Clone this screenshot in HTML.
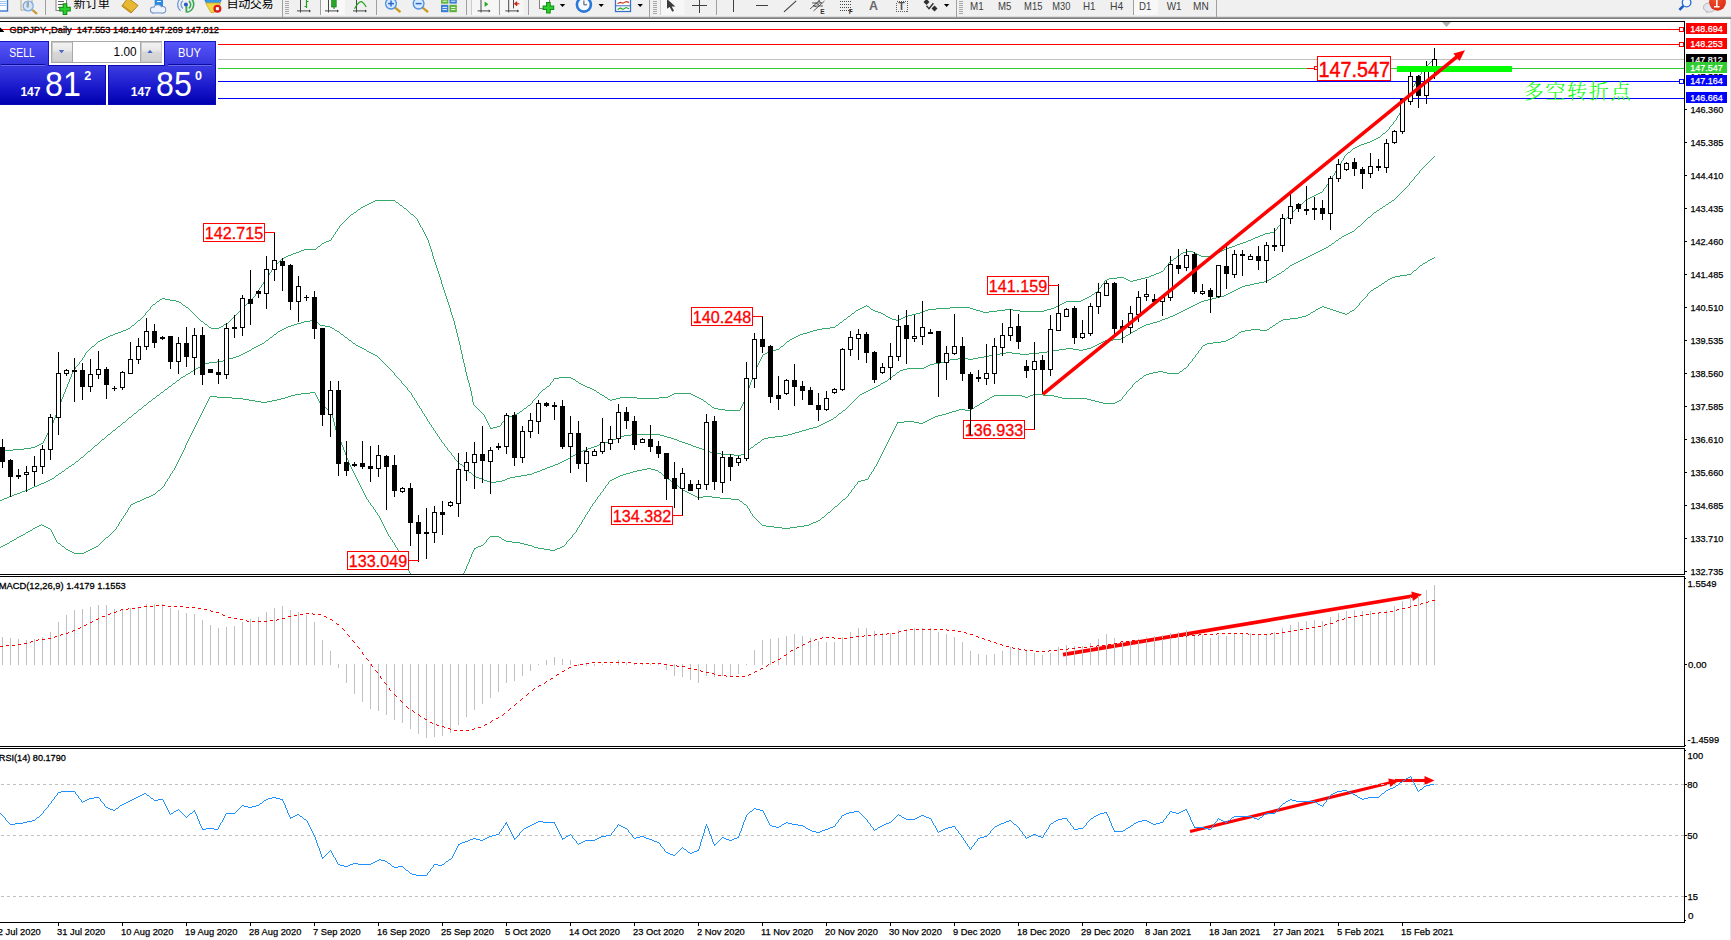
<!DOCTYPE html>
<html lang="zh"><head><meta charset="utf-8"><title>GBPJPY Daily</title>
<style>html,body{margin:0;padding:0;background:#fff;}body{width:1731px;height:940px;overflow:hidden;position:relative;font-family:"Liberation Sans", sans-serif;}svg{position:absolute;left:0;top:0;display:block}text{font-family:"Liberation Sans", sans-serif;}.cj{font-family:"Liberation Sans","Noto Sans CJK SC",sans-serif;}.sg{font-family:"Liberation Serif","Noto Serif CJK SC",serif;}</style>
</head><body>
<svg width="1731" height="940" viewBox="0 0 1731 940">
<defs>
<clipPath id="cm"><rect x="0" y="22" width="1684" height="552"/></clipPath>
<linearGradient id="gb1" x1="0" y1="0" x2="0" y2="1"><stop offset="0" stop-color="#5656fa"/><stop offset="1" stop-color="#3434dc"/></linearGradient>
<linearGradient id="gb2" x1="0" y1="0" x2="0" y2="1"><stop offset="0" stop-color="#3c3ce2"/><stop offset="0.55" stop-color="#1a1acc"/><stop offset="1" stop-color="#0000b0"/></linearGradient>
<linearGradient id="gg" x1="0" y1="0" x2="0" y2="1"><stop offset="0" stop-color="#f4f4f4"/><stop offset="0.45" stop-color="#e6e6e6"/><stop offset="0.5" stop-color="#d8d8d8"/><stop offset="1" stop-color="#d0d0d0"/></linearGradient>
<radialGradient id="gr" cx="0.4" cy="0.3" r="0.8"><stop offset="0" stop-color="#f05030"/><stop offset="1" stop-color="#d82810"/></radialGradient>
</defs>
<rect x="0" y="0" width="1731" height="940" fill="#fff"/>
<g id="toolbar">
<rect x="0" y="0" width="1731" height="16" fill="#f0f0f0"/>
<rect x="0" y="16" width="1731" height="1" fill="#dcdcdc"/>
<rect x="0" y="17" width="1731" height="1" fill="#9a9a9a"/>
<rect x="0" y="18" width="1731" height="1" fill="#808080"/>
<rect x="-1" y="-2" width="8.5" height="13" fill="#fff" stroke="#3a78d8" stroke-width="1.4"/>
<path d="M0 1.5H6M0 3.5H6M0 5.5H6" stroke="#9cc0f0" stroke-width="1"/>
<rect x="21" y="-2" width="11" height="12" fill="#f4f0e4" stroke="#b0a890" stroke-width="1"/>
<line x1="32.5" y1="10" x2="37" y2="13.8" stroke="#c8962c" stroke-width="2.2"/>
<circle cx="28.2" cy="6" r="5" fill="#d4e6f8" fill-opacity="0.9" stroke="#78a8e4" stroke-width="1.2"/>
<rect x="26.5" y="1.5" width="2.5" height="6" fill="#9aa8b8"/>
<rect x="45.0" y="0" width="1" height="14.5" fill="#a0a0a0" shape-rendering="crispEdges"/>
<rect x="56" y="-2" width="10.5" height="12.5" fill="#fff" stroke="#808080" stroke-width="1"/>
<path d="M58 1.5H64M58 4.5H63M58 7.5H61" stroke="#606060" stroke-width="1"/>
<path d="M65 3.2V15M59.2 9.1H70.8" stroke="#0c8c0c" stroke-width="4.6"/>
<path d="M65 4.2V14M60.2 9.1H69.8" stroke="#2cd02c" stroke-width="2.6"/>
<text class="cj" x="73.6" y="7.9" font-size="12.1px" fill="#000">新订单</text>
<polygon points="128,-2 138,5.5 131,13 121.8,6" fill="#e8b832" stroke="#b08418" stroke-width="1"/>
<polygon points="121.8,6 131,13 131,11 123,5" fill="#c89820"/>
<rect x="154.7" y="-2" width="8.3" height="8" fill="#2a8ae8"/>
<path d="M157 1.5H161" stroke="#fff" stroke-width="1"/>
<g stroke="#7090c8" stroke-width="2" fill="#7090c8"><circle cx="153.3" cy="10" r="2.4"/><circle cx="157.8" cy="8.6" r="3.3"/><circle cx="162.6" cy="9.7" r="2.7"/><rect x="153.3" y="10" width="9.3" height="2.4"/></g>
<g fill="#eef3fa"><circle cx="153.3" cy="10" r="2.4"/><circle cx="157.8" cy="8.6" r="3.3"/><circle cx="162.6" cy="9.7" r="2.7"/><rect x="153.3" y="9" width="9.3" height="3.4"/></g>
<path d="M182.9 8.4a4.7 4.7 0 0 1 0-7.6M180.6 10.8a8 8 0 0 1 0-12.4" stroke="#6a96dc" stroke-width="1.2" fill="none"/>
<path d="M188.9 1a4.7 4.7 0 0 1 0 7.4M191.2 -1.4a8 8 0 0 1-4 13.6" stroke="#38a850" stroke-width="1.6" fill="none"/>
<path d="M186.4 4.6V12.6" stroke="#38a850" stroke-width="1.8"/>
<circle cx="185.9" cy="4.6" r="2" fill="#2a5ac8"/>
<ellipse cx="213" cy="0.6" rx="8" ry="3.6" fill="#3a98e8" stroke="#2070c0" stroke-width="0.8"/>
<polygon points="205.6,3 220.8,3 214,12.6 211,12.6" fill="#f2d648" stroke="#c8a820" stroke-width="0.8"/>
<circle cx="217.4" cy="8.7" r="4" fill="#d82018"/>
<rect x="215.9" y="7.2" width="3" height="3" fill="#fff"/>
<text class="cj" x="226.6" y="7.9" font-size="12.1px" fill="#000" textLength="47" lengthAdjust="spacing">自动交易</text>
<rect x="281.5" y="0" width="1" height="16.5" fill="#a0a0a0" shape-rendering="crispEdges"/>
<rect x="284.5" y="1" width="4" height="1" fill="#a8a8a8" shape-rendering="crispEdges"/>
<rect x="284.5" y="3" width="4" height="1" fill="#a8a8a8" shape-rendering="crispEdges"/>
<rect x="284.5" y="5" width="4" height="1" fill="#a8a8a8" shape-rendering="crispEdges"/>
<rect x="284.5" y="7" width="4" height="1" fill="#a8a8a8" shape-rendering="crispEdges"/>
<rect x="284.5" y="9" width="4" height="1" fill="#a8a8a8" shape-rendering="crispEdges"/>
<rect x="284.5" y="11" width="4" height="1" fill="#a8a8a8" shape-rendering="crispEdges"/>
<rect x="284.5" y="13" width="4" height="1" fill="#a8a8a8" shape-rendering="crispEdges"/>
<path d="M300.5 0V12.5M297.0 10.9H310.0" stroke="#484848" stroke-width="1" fill="none"/>
<path d="M311.0 10.9l-2 -1.5v3z" fill="#484848"/>
<path d="M306.5 0V8M304.5 6.5H306.5M306.5 1.5H308.5" stroke="#20a020" stroke-width="1.2" fill="none"/>
<rect x="319.5" y="0" width="1" height="14.5" fill="#a0a0a0" shape-rendering="crispEdges"/>
<rect x="321" y="0" width="24" height="15" fill="#f8f8f8"/>
<path d="M328.5 0V12.5M325.0 10.9H338.0" stroke="#484848" stroke-width="1" fill="none"/>
<path d="M339.0 10.9l-2 -1.5v3z" fill="#484848"/>
<rect x="331.6" y="-1" width="4.6" height="8" fill="#28a828" stroke="#107010" stroke-width="0.6"/><path d="M334 7V9" stroke="#107010" stroke-width="1"/>
<path d="M356.5 0V12.5M353.0 10.9H366.0" stroke="#484848" stroke-width="1" fill="none"/>
<path d="M367.0 10.9l-2 -1.5v3z" fill="#484848"/>
<path d="M354.5 8.7C357 4.5 359 1.6 360.8 1.6C363 1.6 364.5 4 366.2 7" stroke="#20a020" stroke-width="1.2" fill="none"/>
<rect x="376.0" y="0" width="1" height="14.5" fill="#a0a0a0" shape-rendering="crispEdges"/>
<line x1="395.0" y1="7.6" x2="400.5" y2="12.2" stroke="#cc9a20" stroke-width="2.4"/>
<circle cx="391.0" cy="3.6" r="5.4" fill="#d6e8fa" stroke="#4a90e0" stroke-width="1.3"/>
<path d="M388.0 3.6H394.0" stroke="#2a6ad0" stroke-width="1.5"/>
<path d="M391.0 0.6V6.6" stroke="#2a6ad0" stroke-width="1.5"/>
<line x1="422.6" y1="7.6" x2="428.1" y2="12.2" stroke="#cc9a20" stroke-width="2.4"/>
<circle cx="418.6" cy="3.6" r="5.4" fill="#d6e8fa" stroke="#4a90e0" stroke-width="1.3"/>
<path d="M415.6 3.6H421.6" stroke="#2a6ad0" stroke-width="1.5"/>
<rect x="441" y="-1" width="7.4" height="4.6" fill="#5cb434"/><rect x="449.4" y="-1" width="7.4" height="4.6" fill="#3a7cdc"/>
<rect x="441" y="4.8" width="7.4" height="7.4" fill="#3a7cdc"/><rect x="449.4" y="4.8" width="7.4" height="7.4" fill="#5cb434"/>
<path d="M442.5 1.2H447M451 1.2H455.4M442.5 7.4H447M442.5 9.6H447M451 7.4H455.4M451 9.6H455.4" stroke="#fff" stroke-width="0.9"/>
<rect x="466.0" y="0" width="1" height="14.5" fill="#a0a0a0" shape-rendering="crispEdges"/>
<rect x="470.5" y="0" width="1" height="14.5" fill="#a0a0a0" shape-rendering="crispEdges"/>
<rect x="471.5" y="0" width="27" height="15" fill="#f6f6f6"/>
<path d="M481.0 0V12.5M477.6 10.9H489.6" stroke="#484848" stroke-width="1" fill="none"/>
<path d="M490.6 10.9l-2 -1.5v3z" fill="#484848"/>
<polygon points="484.6,1.6 484.6,7 488.4,4.3" fill="#28a828"/>
<rect x="499.0" y="0" width="1" height="14.5" fill="#a0a0a0" shape-rendering="crispEdges"/>
<rect x="500" y="0" width="23.5" height="15" fill="#f6f6f6"/>
<path d="M508.7 0V12.5M505.3 10.9H518.2" stroke="#484848" stroke-width="1" fill="none"/>
<path d="M519.2 10.9l-2 -1.5v3z" fill="#484848"/>
<path d="M513.5 0V8.4" stroke="#484848" stroke-width="1"/>
<path d="M515 3.8H519.4M514.4 3.8l2.4-2v4z" stroke="#d02010" stroke-width="1" fill="#d02010"/>
<rect x="528.0" y="0" width="1" height="14.5" fill="#a0a0a0" shape-rendering="crispEdges"/>
<rect x="539.5" y="-2" width="10" height="10.5" fill="#fff" stroke="#808080" stroke-width="1"/>
<path d="M548.4 2V13.6M542.6 7.8H554.2" stroke="#0c8c0c" stroke-width="4.6"/>
<path d="M548.4 3V12.6M543.6 7.8H553.2" stroke="#2cd02c" stroke-width="2.6"/>
<polygon points="559.8,4.0 565.2,4.0 562.5,7.0" fill="#000"/>
<circle cx="583.9" cy="4.6" r="7" fill="#f4f8ff" stroke="#2a78d8" stroke-width="2.6"/>
<path d="M583.9 0.5V4.8H587" stroke="#505050" stroke-width="1" fill="none"/>
<polygon points="598.5,4.0 603.9,4.0 601.2,7.0" fill="#000"/>
<rect x="615.5" y="-1" width="15" height="12.5" fill="#fff" stroke="#3a70c8" stroke-width="1.3"/>
<path d="M616 5.8H630" stroke="#3a70c8" stroke-width="1"/>
<path d="M617.5 3.6L620.5 2.4L623 3.2L626 1.6L629 2.4" stroke="#d03020" stroke-width="1.1" fill="none"/>
<path d="M617.5 9.6L620.5 8L623 9.4L626 7.6L629 8.8" stroke="#20a020" stroke-width="1.1" fill="none"/>
<polygon points="637.5,4.0 642.9,4.0 640.2,7.0" fill="#000"/>
<rect x="649.0" y="0" width="1" height="16.5" fill="#a0a0a0" shape-rendering="crispEdges"/>
<rect x="652.6" y="1" width="4" height="1" fill="#a8a8a8" shape-rendering="crispEdges"/>
<rect x="652.6" y="3" width="4" height="1" fill="#a8a8a8" shape-rendering="crispEdges"/>
<rect x="652.6" y="5" width="4" height="1" fill="#a8a8a8" shape-rendering="crispEdges"/>
<rect x="652.6" y="7" width="4" height="1" fill="#a8a8a8" shape-rendering="crispEdges"/>
<rect x="652.6" y="9" width="4" height="1" fill="#a8a8a8" shape-rendering="crispEdges"/>
<rect x="652.6" y="11" width="4" height="1" fill="#a8a8a8" shape-rendering="crispEdges"/>
<rect x="652.6" y="13" width="4" height="1" fill="#a8a8a8" shape-rendering="crispEdges"/>
<rect x="659.5" y="0" width="1" height="14.5" fill="#a0a0a0" shape-rendering="crispEdges"/>
<rect x="660.5" y="0" width="24" height="15" fill="#f7f7f7"/>
<polygon points="667,-1 667,8.7 669.7,6.9 672.3,11.8 674,10.7 671.7,6.6 675.4,6.6" fill="#3c3c3c"/>
<path d="M692 5.5H707M699.5 0V12.5" stroke="#404040" stroke-width="1" shape-rendering="crispEdges"/>
<rect x="716.0" y="0" width="1" height="14.5" fill="#a0a0a0" shape-rendering="crispEdges"/>
<path d="M733.5 0V11.8" stroke="#404040" stroke-width="1" shape-rendering="crispEdges"/>
<path d="M756 5.5H768" stroke="#404040" stroke-width="1" shape-rendering="crispEdges"/>
<path d="M784 11.8L796.2 0.9" stroke="#404040" stroke-width="1.1"/>
<path d="M810 9L821 -1M813.5 11L824.5 1M813 5.2L816.5 7.2M815.5 3L819 5M818 0.8L821.5 2.8M812 3H822M813 6H823" stroke="#484848" stroke-width="0.9" fill="none"/>
<text x="820.3" y="14" font-size="6.5px" font-weight="bold" fill="#303030">E</text>
<path d="M839.5 1.5H851.5" stroke="#484848" stroke-width="1" stroke-dasharray="1,1" shape-rendering="crispEdges"/>
<path d="M839.5 4.5H851.5" stroke="#484848" stroke-width="1" stroke-dasharray="1,1" shape-rendering="crispEdges"/>
<path d="M839.5 7.5H851.5" stroke="#484848" stroke-width="1" stroke-dasharray="1,1" shape-rendering="crispEdges"/>
<path d="M839.5 10.5H851.5" stroke="#484848" stroke-width="1" stroke-dasharray="1,1" shape-rendering="crispEdges"/>
<text x="848.8" y="14" font-size="6.5px" font-weight="bold" fill="#303030">F</text>
<text x="869" y="9.6" font-size="12.4px" font-weight="bold" fill="#686868">A</text>
<rect x="896.5" y="1.5" width="11" height="10" fill="none" stroke="#606060" stroke-width="1" stroke-dasharray="1,1" shape-rendering="crispEdges"/>
<text x="898.3" y="10.2" font-size="10.5px" font-weight="bold" fill="#505050">T</text>
<polygon points="926.5,-1 929.5,2 926.5,5 923.5,2" fill="#303030"/><polygon points="934.5,5.4 937.5,8.4 934.5,11.4 931.5,8.4" fill="#303030"/>
<path d="M926.5 5.8L929 8.6L933.4 3.2" stroke="#303030" stroke-width="1.4" fill="none"/>
<polygon points="943.9,4.0 949.3,4.0 946.6,7.0" fill="#000"/>
<rect x="955.5" y="0" width="1" height="16.5" fill="#a0a0a0" shape-rendering="crispEdges"/>
<rect x="958.6" y="1" width="4" height="1" fill="#a8a8a8" shape-rendering="crispEdges"/>
<rect x="958.6" y="3" width="4" height="1" fill="#a8a8a8" shape-rendering="crispEdges"/>
<rect x="958.6" y="5" width="4" height="1" fill="#a8a8a8" shape-rendering="crispEdges"/>
<rect x="958.6" y="7" width="4" height="1" fill="#a8a8a8" shape-rendering="crispEdges"/>
<rect x="958.6" y="9" width="4" height="1" fill="#a8a8a8" shape-rendering="crispEdges"/>
<rect x="958.6" y="11" width="4" height="1" fill="#a8a8a8" shape-rendering="crispEdges"/>
<rect x="958.6" y="13" width="4" height="1" fill="#a8a8a8" shape-rendering="crispEdges"/>
<text x="970.0" y="9.6" font-size="10.8px" fill="#404040" textLength="13.6" lengthAdjust="spacingAndGlyphs">M1</text>
<text x="998.0" y="9.6" font-size="10.8px" fill="#404040" textLength="13.4" lengthAdjust="spacingAndGlyphs">M5</text>
<text x="1024.1" y="9.6" font-size="10.8px" fill="#404040" textLength="18.3" lengthAdjust="spacingAndGlyphs">M15</text>
<text x="1052.3" y="9.6" font-size="10.8px" fill="#404040" textLength="18.1" lengthAdjust="spacingAndGlyphs">M30</text>
<text x="1082.9" y="9.6" font-size="10.8px" fill="#404040" textLength="12.5" lengthAdjust="spacingAndGlyphs">H1</text>
<text x="1110.0" y="9.6" font-size="10.8px" fill="#404040" textLength="13.2" lengthAdjust="spacingAndGlyphs">H4</text>
<rect x="1133.0" y="0" width="1" height="14.5" fill="#a0a0a0" shape-rendering="crispEdges"/>
<rect x="1134" y="0" width="24" height="15" fill="#f8f8f8"/>
<text x="1139.1" y="9.6" font-size="10.8px" fill="#404040" textLength="12.3" lengthAdjust="spacingAndGlyphs">D1</text>
<text x="1166.7" y="9.6" font-size="10.8px" fill="#404040" textLength="14.9" lengthAdjust="spacingAndGlyphs">W1</text>
<text x="1193.0" y="9.6" font-size="10.8px" fill="#404040" textLength="15.7" lengthAdjust="spacingAndGlyphs">MN</text>
<rect x="1215.5" y="0" width="1" height="16.5" fill="#a0a0a0" shape-rendering="crispEdges"/>
<line x1="1683.4" y1="5.8" x2="1679.4" y2="9.8" stroke="#1858c8" stroke-width="2.6"/>
<circle cx="1686.6" cy="2.6" r="4.3" fill="#f4f8ff" stroke="#2868d8" stroke-width="1.3"/>
<ellipse cx="1709.5" cy="7.4" rx="6" ry="4.6" fill="#e4e6ee" stroke="#b4b4b8" stroke-width="1"/>
<polygon points="1705.6,10.8 1706.3,13.8 1709,11.4" fill="#c8c8cc"/>
<circle cx="1717.5" cy="2.3" r="8.4" fill="url(#gr)"/>
<path d="M1716.8 -1V6.6M1714 6.7H1719.6" stroke="#fff" stroke-width="1.5" fill="none"/>
</g>
<g id="frame" shape-rendering="crispEdges" fill="#000">
<rect x="0" y="21" width="1685" height="1"/>
<rect x="1684" y="21" width="1" height="554"/>
<rect x="0" y="574" width="1685" height="1"/>
<rect x="0" y="576" width="1685" height="1"/>
<rect x="1684" y="576" width="1" height="171"/>
<rect x="0" y="746" width="1685" height="1"/>
<rect x="0" y="748" width="1685" height="1"/>
<rect x="1684" y="748" width="1" height="175"/>
<rect x="0" y="922" width="1685" height="1"/>
<rect x="1730" y="19" width="1" height="921" fill="#e4e4e4"/>
<rect x="1685" y="109" width="2" height="1"/>
<rect x="1685" y="142" width="2" height="1"/>
<rect x="1685" y="175" width="2" height="1"/>
<rect x="1685" y="208" width="2" height="1"/>
<rect x="1685" y="241" width="2" height="1"/>
<rect x="1685" y="274" width="2" height="1"/>
<rect x="1685" y="307" width="2" height="1"/>
<rect x="1685" y="340" width="2" height="1"/>
<rect x="1685" y="373" width="2" height="1"/>
<rect x="1685" y="406" width="2" height="1"/>
<rect x="1685" y="439" width="2" height="1"/>
<rect x="1685" y="472" width="2" height="1"/>
<rect x="1685" y="505" width="2" height="1"/>
<rect x="1685" y="538" width="2" height="1"/>
<rect x="1685" y="571" width="2" height="1"/>
<rect x="1685" y="578" width="1" height="1"/><rect x="1685" y="664" width="2" height="1"/><rect x="1685" y="745" width="1" height="1"/>
<rect x="1685" y="750" width="1" height="1"/><rect x="1685" y="784" width="2" height="1"/><rect x="1685" y="835" width="2" height="1"/><rect x="1685" y="896" width="2" height="1"/><rect x="1685" y="920" width="1" height="1"/>
<rect x="58" y="923" width="1" height="3"/>
<rect x="122" y="923" width="1" height="3"/>
<rect x="186" y="923" width="1" height="3"/>
<rect x="250" y="923" width="1" height="3"/>
<rect x="314" y="923" width="1" height="3"/>
<rect x="378" y="923" width="1" height="3"/>
<rect x="442" y="923" width="1" height="3"/>
<rect x="506" y="923" width="1" height="3"/>
<rect x="570" y="923" width="1" height="3"/>
<rect x="634" y="923" width="1" height="3"/>
<rect x="698" y="923" width="1" height="3"/>
<rect x="762" y="923" width="1" height="3"/>
<rect x="826" y="923" width="1" height="3"/>
<rect x="890" y="923" width="1" height="3"/>
<rect x="954" y="923" width="1" height="3"/>
<rect x="1018" y="923" width="1" height="3"/>
<rect x="1082" y="923" width="1" height="3"/>
<rect x="1146" y="923" width="1" height="3"/>
<rect x="1210" y="923" width="1" height="3"/>
<rect x="1274" y="923" width="1" height="3"/>
<rect x="1338" y="923" width="1" height="3"/>
<rect x="1402" y="923" width="1" height="3"/>
</g>
<g id="hlines" shape-rendering="crispEdges">
<rect x="0" y="29" width="1684" height="1" fill="#ff0000"/>
<rect x="0" y="44" width="1684" height="1" fill="#ff0000"/>
<rect x="0" y="59" width="1684" height="1" fill="#c0c0c0"/>
<rect x="0" y="68" width="1684" height="1" fill="#32cd32"/>
<rect x="0" y="81" width="1684" height="1" fill="#0000ff"/>
<rect x="0" y="98" width="1684" height="1" fill="#0000ff"/>
</g>
<g id="bands" fill="none" stroke="#36a86c" stroke-width="1" shape-rendering="crispEdges" transform="translate(0,0.5)">
<path d="M1434 58h1m-2 1h1m-2 1h1m-2 1h1m-2 1h1m-2 1h1m-2 1h1m-2 1h1m-2 1h1m-2 1h1m-2 1h1m-1 1h1m-2 1h1m-2 1h1m-2 1h1m-1 1h1m-2 1h1m-2 1h1m-2 1h1m-1 1h1m-2 1h1m-1 1h1m-2 1h1m-1 1h1m-2 1h1m-1 1h1m-2 1h1m-1 1h1m-2 1h1m-2 1h1m-1 1h1m-2 1h1m-1 1h1m-2 1h1m-2 1h1m-1 1h1m-2 1h1m-2 1h1m-1 1h1m-2 1h1m-1 1h1m-2 1h1m-1 1h1m-2 1h1m-1 1h1m-1 1h1m-2 1h1m-1 1h1m-2 1h1m-1 1h1m-1 1h1m-2 1h1m-1 1h1m-2 1h1m-1 1h1m-2 1h1m-1 1h1m-2 1h1m-2 1h1m-1 1h1m-2 1h1m-1 1h1m-2 1h1m-2 1h1m-2 1h1m-1 1h1m-2 1h1m-2 1h1m-2 1h1m-2 1h1m-1 1h1m-2 1h1m-2 1h1m-2 1h1m-2 1h1m-3 1h2m-3 1h1m-2 1h1m-2 1h1m-3 1h2m-4 1h2m-4 1h2m-4 1h2m-4 1h2m-5 1h3m-6 1h3m-6 1h3m-5 1h2m-4 1h2m-4 1h2m-4 1h2m-3 1h1m-2 1h1m-2 1h1m-3 1h2m-3 1h1m-2 1h1m-2 1h1m-2 1h1m-1 1h1m-2 1h1m-1 1h1m-2 1h1m-2 1h1m-1 1h1m-2 1h1m-2 1h1m-1 1h1m-2 1h1m-1 1h1m-2 1h1m-2 1h1m-1 1h1m-2 1h1m-1 1h1m-2 1h1m-1 1h1m-2 1h1m-2 1h1m-1 1h1m-2 1h1m-1 1h1m-2 1h1m-2 1h1m-1 1h1m-2 1h1m-2 1h1m-2 1h1m-1 1h1m-2 1h1m-2 1h1m-2 1h1m-1 1h1m-2 1h1m-3 1h2m-4 1h2m-4 1h2m-4 1h2m-4 1h2m-4 1h2m-4 1h2m-4 1h2m-933 1h20m910 0h1m-933 1h2m20 0h1m908 0h1m-934 1h2m23 0h2m905 0h1m-935 1h2m27 0h1m903 0h1m-936 1h2m30 0h1m900 0h2m-937 1h2m33 0h2m897 0h1m-937 1h2m37 0h1m895 0h1m-938 1h2m40 0h1m893 0h1m-938 1h1m43 0h2m890 0h1m-939 1h2m46 0h1m888 0h1m-939 1h1m49 0h1m886 0h1m-939 1h1m51 0h1m884 0h1m-940 1h2m53 0h1m882 0h1m-940 1h1m56 0h1m880 0h1m-941 1h2m58 0h2m877 0h1m-941 1h1m62 0h1m875 0h1m-941 1h1m64 0h1m873 0h1m-941 1h1m66 0h1m871 0h1m-941 1h1m68 0h1m869 0h1m-941 1h1m70 0h1m867 0h1m-941 1h1m71 0h1m866 0h1m-941 1h1m73 0h1m864 0h1m-941 1h1m74 0h1m863 0h1m-941 1h1m76 0h1m861 0h1m-941 1h1m77 0h1m860 0h1m-941 1h1m79 0h1m858 0h1m-941 1h1m80 0h1m857 0h1m-940 1h1m81 0h1m855 0h1m-940 1h1m83 0h1m854 0h1m-941 1h1m84 0h1m853 0h1m-940 1h1m85 0h1m851 0h1m-940 1h1m86 0h1m850 0h1m-940 1h1m88 0h1m845 0h4m-939 1h1m88 0h1m840 0h5m-936 1h1m90 0h1m837 0h2m-932 1h1m91 0h1m834 0h3m-930 1h1m92 0h1m831 0h2m-928 1h1m93 0h1m828 0h3m-927 1h1m95 0h1m825 0h2m-924 1h1m95 0h1m823 0h2m-924 1h2m97 0h1m819 0h3m-925 1h3m99 0h1m817 0h2m-924 1h2m102 0h1m814 0h3m-924 1h2m105 0h1m810 0h3m-922 1h1m107 0h1m807 0h3m-920 1h1m108 0h1m805 0h2m-919 1h2m110 0h1m801 0h3m-918 1h1m112 0h1m798 0h3m-916 1h1m113 0h1m795 0h3m-925 1h12m115 0h1m792 0h2m-925 1h3m127 0h1m790 0h2m-925 1h2m130 0h1m755 0h6m27 0h2m-926 1h3m133 0h1m750 0h4m6 0h2m22 0h3m-927 1h3m136 0h1m748 0h2m12 0h2m18 0h2m-926 1h2m139 0h1m747 0h1m16 0h2m14 0h2m-927 1h3m141 0h1m745 0h2m19 0h2m10 0h2m-927 1h2m145 0h1m743 0h1m23 0h10m-927 1h2m147 0h1m742 0h1m-895 1h2m149 0h1m740 0h2m-895 1h1m152 0h1m738 0h1m-894 1h1m153 0h1m736 0h2m-894 1h1m154 0h1m735 0h1m-893 1h1m156 0h1m733 0h1m-893 1h1m157 0h1m732 0h1m-893 1h1m158 0h1m732 0h1m-894 1h1m160 0h1m730 0h1m-894 1h1m161 0h1m729 0h1m-894 1h1m162 0h1m728 0h1m-893 1h1m163 0h1m726 0h1m-893 1h1m164 0h1m726 0h1m-894 1h1m165 0h1m725 0h1m-893 1h1m166 0h1m722 0h2m-893 1h1m167 0h1m720 0h2m-892 1h1m168 0h1m717 0h3m-890 1h1m169 0h1m714 0h2m-888 1h1m170 0h1m711 0h3m-887 1h1m171 0h1m709 0h2m-884 1h1m172 0h1m676 0h7m21 0h4m-883 1h1m173 0h1m668 0h8m7 0h2m15 0h4m-880 1h1m174 0h1m666 0h2m17 0h2m9 0h4m-876 1h1m175 0h1m663 0h2m21 0h2m3 0h4m-873 1h1m176 0h1m662 0h1m25 0h3m-870 1h1m177 0h1m662 0h1m-842 1h1m177 0h1m661 0h1m-842 1h1m179 0h1m659 0h1m-842 1h1m180 0h1m658 0h1m-841 1h1m180 0h1m658 0h1m-842 1h1m182 0h1m656 0h1m-842 1h1m183 0h1m655 0h1m-841 1h1m183 0h1m654 0h1m-841 1h1m185 0h1m653 0h1m-842 1h1m186 0h1m652 0h1m-841 1h1m186 0h1m650 0h2m-841 1h1m188 0h1m648 0h1m-840 1h1m189 0h1m646 0h2m-839 1h1m189 0h1m645 0h1m-838 1h1m191 0h1m642 0h2m-838 1h1m192 0h1m640 0h2m-927 1h3m87 0h1m193 0h1m638 0h2m-927 1h2m3 0h5m81 0h1m195 0h1m635 0h2m-926 1h1m10 0h6m74 0h1m196 0h1m633 0h2m-926 1h2m17 0h3m70 0h1m197 0h1m618 0h15m-925 1h1m22 0h2m67 0h1m199 0h1m615 0h2m-911 1h1m25 0h1m65 0h1m200 0h1m613 0h2m-911 1h2m27 0h1m63 0h1m201 0h1m611 0h2m-910 1h1m30 0h2m60 0h1m203 0h1m416 0h1m191 0h2m-909 1h1m33 0h1m58 0h1m204 0h1m414 0h2m1 0h2m187 0h2m-908 1h1m35 0h2m55 0h1m205 0h1m412 0h2m5 0h1m80 0h20m84 0h2m-906 1h1m37 0h1m53 0h1m207 0h1m409 0h2m8 0h1m65 0h14m20 0h3m78 0h3m-905 1h1m39 0h1m51 0h1m208 0h1m407 0h2m11 0h2m55 0h8m37 0h3m29 0h8m34 0h4m-903 1h1m41 0h1m49 0h1m209 0h1m405 0h2m15 0h2m50 0h3m48 0h4m17 0h8m8 0h7m24 0h3m-900 1h1m43 0h1m47 0h1m210 0h1m404 0h1m19 0h3m45 0h2m55 0h3m6 0h8m23 0h24m-898 1h1m45 0h1m45 0h1m212 0h1m402 0h1m23 0h3m39 0h3m60 0h6m-844 1h1m47 0h1m43 0h1m213 0h1m400 0h2m27 0h2m33 0h4m-775 1h1m48 0h1m41 0h1m214 0h1m399 0h1m31 0h2m27 0h4m-772 1h1m50 0h1m39 0h1m216 0h1m397 0h1m34 0h1m22 0h4m-769 1h1m52 0h1m37 0h1m217 0h1m395 0h2m36 0h2m17 0h3m-766 1h1m54 0h1m35 0h1m218 0h1m394 0h1m40 0h2m13 0h2m-764 1h1m56 0h1m33 0h1m220 0h1m392 0h1m43 0h2m9 0h2m-763 1h1m58 0h1m31 0h1m221 0h1m390 0h2m46 0h4m3 0h2m-763 1h2m60 0h1m29 0h1m222 0h1m389 0h1m52 0h3m-762 1h1m63 0h2m26 0h1m224 0h1m387 0h1m-707 1h1m66 0h1m24 0h1m225 0h1m385 0h2m-707 1h1m68 0h1m21 0h2m226 0h1m384 0h1m-706 1h1m70 0h2m17 0h2m228 0h1m383 0h1m-707 1h2m73 0h1m15 0h1m231 0h1m380 0h2m-707 1h1m76 0h1m12 0h2m232 0h1m379 0h1m-706 1h1m78 0h2m8 0h2m234 0h1m374 0h5m-707 1h2m81 0h8m236 0h1m366 0h8m-704 1h2m328 0h1m360 0h5m-699 1h3m330 0h1m356 0h4m-696 1h2m333 0h1m353 0h3m-695 1h3m335 0h1m350 0h3m-695 1h3m339 0h1m345 0h4m-694 1h2m342 0h1m342 0h3m-693 1h3m344 0h1m340 0h2m-692 1h2m347 0h1m338 0h2m-692 1h2m350 0h1m335 0h2m-692 1h2m352 0h1m333 0h2m-692 1h2m354 0h1m331 0h2m-692 1h2m356 0h1m330 0h1m-692 1h2m359 0h1m327 0h2m-692 1h1m361 0h1m326 0h1m-691 1h1m362 0h1m325 0h1m-691 1h1m363 0h1m324 0h1m-691 1h1m365 0h1m322 0h1m-692 1h2m366 0h1m320 0h2m-692 1h1m368 0h1m319 0h1m-691 1h1m369 0h1m318 0h1m-691 1h1m370 0h1m315 0h3m-691 1h1m372 0h1m310 0h4m-689 1h1m373 0h1m307 0h3m-686 1h1m374 0h1m305 0h2m-684 1h1m375 0h1m303 0h2m-682 1h1m376 0h1m300 0h2m-681 1h1m377 0h1m299 0h1m-679 1h1m377 0h1m299 0h1m-680 1h1m378 0h1m298 0h1m-680 1h1m379 0h1m298 0h1m-680 1h1m380 0h1m296 0h1m-680 1h1m381 0h1m296 0h1m-681 1h1m382 0h1m295 0h1m-681 1h1m383 0h1m295 0h1m-681 1h1m384 0h1m293 0h1m-681 1h1m385 0h1m293 0h1m-682 1h1m386 0h1m292 0h1m-682 1h1m387 0h1m292 0h1m-683 1h1m389 0h1m290 0h1m-682 1h1m389 0h1m290 0h1m-683 1h1m390 0h1m289 0h1m-683 1h1m391 0h1m289 0h1m-683 1h1m391 0h1m289 0h1m-684 1h1m393 0h1m287 0h1m-683 1h1m393 0h1m287 0h1m-684 1h1m394 0h1m287 0h1m-684 1h1m394 0h1m286 0h1m-683 1h1m395 0h1m285 0h1m-684 1h1m396 0h1m91 0h12m181 0h1m-683 1h1m396 0h1m86 0h5m12 0h2m179 0h1m-684 1h1m397 0h1m85 0h1m19 0h2m177 0h1m-684 1h1m398 0h1m84 0h1m21 0h1m175 0h1m-683 1h1m398 0h1m83 0h1m23 0h2m173 0h1m-684 1h1m399 0h1m82 0h1m26 0h1m171 0h1m-683 1h1m400 0h1m80 0h1m28 0h2m169 0h1m-684 1h1m401 0h1m80 0h1m30 0h2m167 0h1m-684 1h1m401 0h1m79 0h1m33 0h2m164 0h1m-683 1h1m401 0h1m77 0h2m36 0h2m162 0h1m-684 1h1m403 0h1m75 0h1m40 0h3m159 0h1m-684 1h1m403 0h1m74 0h1m44 0h2m156 0h1m-684 1h1m404 0h1m72 0h2m47 0h2m154 0h1m-684 1h1m404 0h1m71 0h1m51 0h2m152 0h1m-684 1h1m405 0h1m69 0h1m54 0h1m150 0h1m-684 1h1m406 0h1m68 0h1m56 0h2m148 0h1m-684 1h1m406 0h1m67 0h1m59 0h1m74 0h17m55 0h1m-684 1h1m407 0h1m66 0h1m61 0h2m70 0h2m17 0h2m53 0h1m-684 1h1m407 0h1m66 0h1m63 0h2m66 0h2m21 0h2m51 0h1m-684 1h1m408 0h1m64 0h1m66 0h1m63 0h2m25 0h2m48 0h1m-684 1h1m409 0h1m63 0h1m68 0h2m13 0h17m22 0h9m29 0h2m46 0h1m-684 1h1m409 0h1m62 0h1m71 0h1m8 0h4m17 0h22m40 0h2m44 0h1m-685 1h1m410 0h1m61 0h1m73 0h2m2 0h4m85 0h2m41 0h1m-684 1h1m410 0h1m60 0h1m76 0h2m91 0h1m40 0h1m-684 1h1m410 0h1m59 0h1m171 0h2m38 0h1m-685 1h1m412 0h1m58 0h1m173 0h1m36 0h1m-684 1h1m412 0h1m57 0h1m175 0h1m35 0h1m-685 1h1m413 0h1m56 0h1m177 0h2m32 0h1m-684 1h1m414 0h1m53 0h2m180 0h1m31 0h1m-684 1h1m415 0h1m51 0h1m183 0h1m29 0h1m-684 1h1m417 0h1m49 0h1m185 0h2m27 0h1m-684 1h1m418 0h1m46 0h2m188 0h4m22 0h1m-683 1h1m419 0h1m44 0h1m194 0h7m15 0h1m-684 1h1m421 0h1m42 0h1m202 0h15m-683 1h1m422 0h1m39 0h2m-466 1h1m424 0h1m37 0h1m-464 1h1m425 0h1m34 0h2m-463 1h1m426 0h1m31 0h2m-462 1h1m428 0h1m28 0h2m-460 1h1m428 0h1m24 0h4m-458 1h1m429 0h1m20 0h3m-455 1h1m430 0h1m19 0h1m-452 1h1m431 0h1m17 0h1m-452 1h1m432 0h1m17 0h1m-452 1h1m433 0h1m15 0h1m-451 1h1m433 0h1m14 0h1m-451 1h1m435 0h1m12 0h1m-450 1h1m435 0h1m12 0h1m-451 1h1m437 0h1m10 0h1m-450 1h1m437 0h1m7 0h3m-450 1h1m439 0h1m2 0h4m-447 1h1m439 0h3m-444 1h1m-1 1h1m-2 1h1m-1 1h1m-2 1h1m-1 1h1m-2 1h1m-1 1h1m-2 1h1m-1 1h1m-2 1h1m-1 1h1m-2 1h1m-1 1h1m-3 1h2m-4 1h2m-4 1h2m-4 1h2m-6 1h4m-11 1h7m-18 1h11m-21 1h10m-13 1h3"/>
<path d="M1434 156h1m-2 1h1m-2 1h1m-2 1h1m-2 1h1m-2 1h1m-2 1h1m-2 1h1m-2 1h1m-2 1h1m-2 1h1m-2 1h1m-2 1h1m-2 1h1m-2 1h1m-2 1h1m-1 1h1m-2 1h1m-2 1h1m-2 1h1m-2 1h1m-2 1h1m-1 1h1m-2 1h1m-2 1h1m-2 1h1m-2 1h1m-2 1h1m-1 1h1m-2 1h1m-2 1h1m-2 1h1m-2 1h1m-2 1h1m-2 1h1m-2 1h1m-2 1h1m-2 1h1m-2 1h1m-2 1h1m-2 1h1m-2 1h1m-2 1h1m-2 1h1m-3 1h2m-3 1h1m-3 1h2m-3 1h1m-3 1h2m-3 1h1m-3 1h2m-3 1h1m-3 1h2m-3 1h1m-3 1h2m-3 1h1m-3 1h2m-3 1h1m-2 1h1m-2 1h1m-2 1h1m-3 1h2m-3 1h1m-2 1h1m-2 1h1m-2 1h1m-2 1h1m-2 1h1m-2 1h1m-2 1h1m-3 1h2m-3 1h1m-2 1h1m-2 1h1m-2 1h1m-3 1h2m-4 1h2m-4 1h2m-4 1h2m-4 1h2m-4 1h2m-3 1h1m-3 1h2m-3 1h1m-3 1h2m-3 1h1m-2 1h1m-3 1h2m-3 1h1m-3 1h2m-3 1h1m-3 1h2m-4 1h2m-4 1h2m-4 1h2m-4 1h2m-4 1h2m-4 1h2m-4 1h2m-4 1h2m-4 1h2m-4 1h2m-4 1h2m-4 1h2m-4 1h2m-4 1h2m-4 1h2m-4 1h2m-4 1h2m-4 1h2m-3 1h1m-2 1h1m-3 1h2m-3 1h1m-2 1h1m-3 1h2m-3 1h1m-3 1h2m-4 1h2m-3 1h1m-3 1h2m-4 1h2m-3 1h1m-3 1h2m-4 1h2m-5 1h3m-8 1h5m-10 1h5m-9 1h4m-9 1h5m-8 1h3m-5 1h2m-4 1h2m-4 1h2m-4 1h2m-4 1h2m-4 1h2m-4 1h2m-4 1h2m-4 1h2m-6 1h4m-8 1h4m-8 1h4m-8 1h4m-8 1h4m-7 1h3m-5 1h2m-4 1h2m-4 1h2m-4 1h2m-4 1h2m-4 1h2m-4 1h2m-4 1h2m-4 1h2m-4 1h2m-4 1h2m-4 1h2m-4 1h2m-4 1h2m-5 1h3m-5 1h2m-5 1h3m-6 1h3m-855 1h6m844 0h2m-858 1h6m6 0h1m840 0h3m-859 1h3m13 0h1m835 0h4m-860 1h4m17 0h1m831 0h3m-859 1h3m22 0h1m826 0h4m-859 1h3m26 0h5m819 0h2m-858 1h3m34 0h5m812 0h2m-858 1h2m42 0h2m808 0h2m-858 1h2m46 0h2m804 0h2m-858 1h2m50 0h1m802 0h1m-858 1h2m53 0h2m798 0h2m-859 1h2m57 0h2m794 0h2m-858 1h1m61 0h1m791 0h2m-857 1h1m63 0h1m789 0h1m-857 1h2m65 0h2m785 0h2m-857 1h1m69 0h1m782 0h2m-856 1h1m71 0h1m780 0h1m-856 1h2m73 0h2m776 0h2m-856 1h1m77 0h1m773 0h2m-855 1h1m79 0h1m764 0h8m-855 1h2m81 0h2m754 0h8m-848 1h1m85 0h1m751 0h2m-841 1h1m87 0h1m748 0h2m-841 1h2m89 0h2m744 0h2m-841 1h2m93 0h1m741 0h2m-841 1h2m96 0h2m737 0h2m-841 1h2m100 0h2m733 0h2m-841 1h2m104 0h2m729 0h2m-841 1h2m108 0h2m702 0h7m14 0h4m-840 1h1m112 0h2m693 0h7m7 0h6m4 0h4m-838 1h2m115 0h1m686 0h6m20 0h4m-836 1h2m118 0h2m678 0h6m-808 1h2m122 0h2m635 0h6m27 0h8m-804 1h2m126 0h2m627 0h6m6 0h8m9 0h10m-798 1h2m130 0h2m619 0h6m20 0h9m-790 1h2m134 0h2m612 0h5m-758 1h3m138 0h1m606 0h5m-756 1h3m142 0h1m599 0h6m-755 1h4m146 0h1m578 0h10m5 0h5m-752 1h3m151 0h1m569 0h8m10 0h5m-750 1h3m155 0h1m565 0h3m-733 1h6m159 0h1m562 0h2m-738 1h8m166 0h1m556 0h5m-740 1h4m175 0h1m549 0h6m-737 1h2m180 0h1m544 0h4m-733 1h2m183 0h1m541 0h2m-730 1h1m186 0h1m538 0h2m-730 1h2m188 0h1m535 0h2m-730 1h2m191 0h1m517 0h17m-729 1h1m194 0h1m512 0h4m-714 1h2m196 0h1m508 0h3m-712 1h2m199 0h1m506 0h1m-710 1h1m202 0h1m503 0h2m-711 1h2m204 0h1m501 0h1m-711 1h2m206 0h1m500 0h1m-711 1h1m209 0h1m497 0h2m-712 1h2m211 0h1m495 0h1m-712 1h2m214 0h1m493 0h1m-712 1h1m217 0h1m490 0h2m-712 1h1m219 0h1m488 0h1m-712 1h2m221 0h1m486 0h1m-712 1h1m224 0h1m483 0h2m-712 1h1m225 0h1m481 0h2m-712 1h2m227 0h1m478 0h2m-711 1h1m230 0h1m476 0h1m-710 1h1m232 0h1m473 0h2m-711 1h2m234 0h1m470 0h2m-710 1h1m237 0h1m467 0h2m-709 1h1m239 0h1m464 0h2m-709 1h2m240 0h1m462 0h2m-708 1h1m243 0h1m459 0h2m-707 1h1m245 0h1m456 0h2m-707 1h2m247 0h1m453 0h2m-706 1h1m250 0h1m450 0h2m-705 1h1m251 0h1m448 0h2m-705 1h2m253 0h1m446 0h1m-704 1h1m255 0h1m445 0h1m-704 1h1m257 0h1m443 0h1m-705 1h2m259 0h1m441 0h1m-705 1h1m261 0h1m440 0h1m-705 1h1m263 0h1m438 0h1m-706 1h2m265 0h1m436 0h1m-706 1h1m267 0h1m435 0h1m-706 1h1m269 0h1m433 0h1m-706 1h1m270 0h1m432 0h1m-707 1h2m272 0h1m430 0h1m-707 1h1m275 0h1m428 0h1m-707 1h1m276 0h1m427 0h1m-707 1h1m278 0h1m425 0h1m-708 1h2m280 0h1m423 0h1m-708 1h1m282 0h1m421 0h2m-708 1h1m284 0h1m419 0h1m-707 1h1m285 0h1m418 0h1m-708 1h2m287 0h1m415 0h2m-708 1h1m290 0h1m413 0h1m-707 1h1m291 0h1m412 0h1m-707 1h1m293 0h1m410 0h1m-708 1h2m295 0h1m407 0h2m-708 1h1m297 0h1m406 0h1m-707 1h1m299 0h1m403 0h2m-707 1h1m300 0h1m401 0h2m-706 1h1m302 0h1m398 0h2m-706 1h2m304 0h1m395 0h2m-705 1h1m306 0h1m393 0h2m-704 1h1m308 0h1m390 0h2m-703 1h1m310 0h1m387 0h2m-703 1h2m311 0h1m385 0h2m-702 1h1m314 0h1m380 0h4m-701 1h1m316 0h1m375 0h4m-698 1h1m317 0h1m372 0h3m-696 1h2m319 0h1m367 0h4m-694 1h1m322 0h1m363 0h3m-691 1h1m323 0h1m359 0h4m-689 1h1m325 0h1m355 0h3m-687 1h2m327 0h1m193 0h29m128 0h4m-685 1h1m329 0h1m186 0h7m29 0h4m119 0h5m-682 1h1m331 0h1m182 0h3m40 0h3m108 0h8m-678 1h1m333 0h1m179 0h2m46 0h4m97 0h7m-671 1h1m334 0h1m176 0h3m52 0h3m90 0h4m-666 1h2m336 0h1m172 0h3m58 0h3m85 0h2m-663 1h1m339 0h1m168 0h3m64 0h2m82 0h1m-662 1h1m340 0h1m166 0h2m69 0h3m78 0h1m-662 1h1m342 0h1m162 0h3m74 0h3m73 0h2m-662 1h1m344 0h1m158 0h3m80 0h3m69 0h1m-661 1h1m346 0h1m154 0h3m86 0h3m64 0h2m-662 1h2m347 0h1m152 0h2m92 0h2m61 0h1m-661 1h1m350 0h1m148 0h3m96 0h3m57 0h1m-661 1h1m352 0h1m144 0h3m102 0h3m52 0h2m-661 1h1m354 0h1m140 0h3m108 0h3m48 0h1m-660 1h1m355 0h1m138 0h2m114 0h3m44 0h1m-660 1h1m357 0h1m134 0h3m119 0h2m41 0h1m-661 1h2m359 0h1m131 0h2m124 0h3m36 0h2m-661 1h1m362 0h1m128 0h2m129 0h3m32 0h1m-660 1h1m364 0h1m125 0h2m134 0h8m23 0h1m-660 1h1m365 0h1m123 0h2m144 0h13m7 0h3m-660 1h1m367 0h1m120 0h2m159 0h7m-658 1h1m369 0h1m117 0h2m-492 1h2m371 0h1m115 0h1m-491 1h1m373 0h1m113 0h2m-491 1h1m375 0h1m110 0h2m-490 1h1m377 0h1m107 0h2m-490 1h2m379 0h1m104 0h2m-489 1h1m382 0h1m101 0h2m-488 1h1m384 0h1m98 0h2m-488 1h2m386 0h2m93 0h3m-487 1h1m390 0h1m90 0h2m-486 1h2m392 0h1m86 0h3m-485 1h1m395 0h1m82 0h3m-484 1h2m397 0h1m79 0h2m-482 1h1m400 0h1m75 0h3m-481 1h1m402 0h1m72 0h2m-480 1h2m404 0h1m68 0h3m-479 1h1m407 0h2m63 0h3m-478 1h2m410 0h1m60 0h2m-476 1h1m413 0h1m54 0h5m-476 1h2m415 0h1m47 0h6m-472 1h1m418 0h2m39 0h6m-467 1h1m421 0h3m31 0h5m-463 1h2m425 0h3m25 0h3m-460 1h2m430 0h2m21 0h2m-459 1h2m434 0h3m15 0h3m-459 1h2m439 0h3m6 0h6m-458 1h2m444 0h6m-455 1h3m-5 1h2m-4 1h2m-5 1h3m-5 1h2m-4 1h2m-4 1h2m-5 1h3m-6 1h3m-5 1h2m-5 1h3m-6 1h3m-5 1h2m-5 1h3m-5 1h2m-5 1h3m-5 1h2m-4 1h2"/>
<path d="M1434 257h1m-3 1h2m-4 1h2m-4 1h2m-3 1h1m-3 1h2m-4 1h2m-3 1h1m-3 1h2m-3 1h1m-2 1h1m-2 1h1m-2 1h1m-3 1h2m-3 1h1m-2 1h1m-2 1h1m-5 1h4m-11 1h7m-12 1h5m-8 1h3m-5 1h2m-4 1h2m-3 1h1m-3 1h2m-3 1h1m-3 1h2m-3 1h1m-3 1h2m-3 1h1m-3 1h2m-4 1h2m-3 1h1m-3 1h2m-3 1h1m-2 1h1m-2 1h1m-2 1h1m-1 1h1m-2 1h1m-2 1h1m-2 1h1m-2 1h1m-2 1h1m-2 1h1m-2 1h1m-2 1h1m-1 1h1m-2 1h1m-37 1h2m33 0h1m-38 1h2m2 0h3m29 0h1m-39 1h2m7 0h3m25 0h1m-40 1h2m12 0h3m21 0h1m-40 1h1m17 0h3m16 0h2m-41 1h2m21 0h3m11 0h2m-41 1h2m26 0h3m7 0h1m-40 1h1m31 0h3m2 0h2m-41 1h2m35 0h2m-41 1h2m-6 1h4m-8 1h4m-12 1h8m-15 1h7m-9 1h2m-4 1h2m-3 1h1m-3 1h2m-3 1h1m-3 1h2m-3 1h1m-3 1h2m-3 1h1m-19 1h9m7 0h2m-24 1h6m9 0h7m-26 1h4m-6 1h2m-3 1h1m-2 1h1m-3 1h2m-3 1h1m-3 1h2m-4 1h2m-4 1h2m-4 1h2m-7 1h5m-13 1h8m-14 1h6m-8 1h2m-4 1h2m-3 1h1m-2 1h1m-1 1h1m-2 1h1m-2 1h1m-2 1h1m-1 1h1m-2 1h1m-2 1h1m-2 1h1m-1 1h1m-2 1h1m-2 1h1m-2 1h1m-1 1h1m-2 1h1m-2 1h1m-2 1h1m-2 1h1m-1 1h1m-2 1h1m-2 1h1m-3 1h2m-3 1h1m-2 1h1m-25 1h5m17 0h2m-29 1h5m5 0h4m12 0h1m-31 1h4m14 0h12m-33 1h3m-5 1h2m-3 1h1m-2 1h1m-3 1h2m-3 1h1m-2 1h1m-3 1h2m-3 1h1m-2 1h1m-2 1h1m-2 1h1m-1 1h1m-2 1h1m-2 1h1m-2 1h1m-2 1h1m-2 1h1m-818 1h5m811 0h1m-826 1h9m5 0h1m810 0h1m-832 1h6m14 0h1m717 0h10m82 0h1m-835 1h4m21 0h1m677 0h28m8 0h3m10 0h11m70 0h1m-915 1h7m71 0h3m25 0h1m675 0h2m28 0h3m3 0h2m24 0h4m65 0h1m-915 1h1m7 0h15m53 0h3m29 0h1m672 0h2m33 0h3m30 0h4m60 0h1m-914 1h1m22 0h11m38 0h4m32 0h1m671 0h1m72 0h25m35 0h1m-915 1h1m34 0h6m28 0h4m37 0h1m668 0h2m98 0h4m30 0h1m-914 1h1m40 0h6m17 0h5m41 0h1m666 0h2m104 0h4m24 0h2m-914 1h1m47 0h6m6 0h5m47 0h1m664 0h1m110 0h4m18 0h2m-912 1h1m53 0h6m52 0h1m662 0h2m115 0h4m12 0h2m-911 1h1m113 0h1m659 0h2m121 0h12m-909 1h1m114 0h1m657 0h1m-775 1h1m116 0h2m653 0h2m-774 1h1m118 0h1m650 0h2m-773 1h1m120 0h1m648 0h1m-771 1h1m121 0h1m645 0h2m-771 1h1m123 0h2m630 0h6m5 0h2m-769 1h1m125 0h2m625 0h3m6 0h5m-768 1h1m128 0h1m620 0h4m-754 1h1m128 0h1m617 0h3m-751 1h1m129 0h1m614 0h3m-748 1h1m130 0h1m609 0h4m-746 1h1m131 0h1m605 0h4m-742 1h1m131 0h1m602 0h3m-739 1h1m132 0h1m600 0h2m-736 1h1m133 0h1m597 0h2m-735 1h1m134 0h1m595 0h2m-733 1h1m134 0h1m593 0h2m-732 1h1m135 0h1m570 0h10m11 0h2m-730 1h1m136 0h1m562 0h7m10 0h5m4 0h2m-729 1h1m137 0h1m562 0h1m21 0h4m-727 1h1m137 0h1m561 0h1m-702 1h1m138 0h1m561 0h1m-702 1h1m139 0h1m559 0h1m-702 1h1m140 0h1m559 0h1m-702 1h1m140 0h1m558 0h1m-702 1h1m141 0h1m558 0h1m-702 1h1m142 0h1m556 0h1m-702 1h1m143 0h1m556 0h1m-702 1h1m144 0h1m554 0h1m-702 1h1m145 0h1m554 0h1m-702 1h1m145 0h1m553 0h1m-702 1h1m147 0h1m552 0h1m-702 1h1m147 0h1m551 0h1m-702 1h1m149 0h1m550 0h1m-702 1h1m149 0h1m549 0h1m-702 1h1m150 0h1m549 0h1m-702 1h1m151 0h1m547 0h1m-702 1h1m152 0h1m547 0h1m-702 1h1m153 0h1m545 0h1m-702 1h1m154 0h1m545 0h1m-702 1h1m154 0h1m544 0h1m-702 1h1m156 0h1m543 0h1m-702 1h1m156 0h1m542 0h1m-701 1h1m157 0h1m541 0h1m-702 1h1m158 0h1m540 0h1m-701 1h1m158 0h1m540 0h1m-702 1h1m160 0h1m538 0h1m-701 1h1m160 0h1m538 0h1m-702 1h1m162 0h1m536 0h1m-701 1h1m162 0h1m536 0h1m-702 1h1m163 0h1m535 0h1m-701 1h1m164 0h1m534 0h1m-702 1h1m165 0h1m533 0h1m-701 1h1m165 0h1m533 0h1m-702 1h1m167 0h1m531 0h1m-701 1h1m167 0h1m531 0h1m-702 1h1m169 0h1m529 0h1m-701 1h1m169 0h1m529 0h1m-702 1h1m170 0h1m528 0h1m-701 1h1m171 0h1m527 0h1m-702 1h1m172 0h1m526 0h1m-701 1h1m173 0h1m525 0h1m-702 1h1m174 0h1m524 0h1m-701 1h1m175 0h1m522 0h1m-701 1h1m176 0h1m295 0h4m223 0h1m-701 1h1m177 0h1m289 0h5m4 0h4m218 0h1m-701 1h1m178 0h1m284 0h5m13 0h3m215 0h1m-702 1h1m180 0h1m279 0h4m21 0h1m213 0h1m-701 1h1m180 0h1m276 0h3m26 0h2m210 0h1m-701 1h1m182 0h1m271 0h4m31 0h1m209 0h1m-702 1h1m183 0h1m268 0h3m36 0h1m207 0h1m-701 1h1m184 0h1m264 0h3m40 0h1m205 0h1m-701 1h1m185 0h1m262 0h2m44 0h2m203 0h1m-701 1h1m186 0h1m259 0h2m48 0h1m201 0h1m-701 1h1m187 0h1m257 0h2m51 0h1m200 0h1m-702 1h1m189 0h1m254 0h2m54 0h2m195 0h3m-701 1h1m189 0h1m252 0h2m58 0h1m190 0h4m-699 1h1m191 0h1m250 0h1m61 0h1m186 0h3m-696 1h1m192 0h1m249 0h1m63 0h2m183 0h1m-693 1h1m193 0h1m248 0h1m65 0h1m182 0h1m-694 1h1m194 0h1m247 0h1m67 0h1m180 0h1m-693 1h1m195 0h1m245 0h1m69 0h2m177 0h1m-693 1h1m196 0h1m244 0h1m72 0h1m175 0h1m-693 1h1m198 0h1m243 0h1m73 0h1m174 0h1m-694 1h1m199 0h1m242 0h1m75 0h2m171 0h1m-694 1h1m201 0h1m240 0h1m78 0h1m169 0h1m-695 1h2m202 0h1m240 0h1m79 0h2m166 0h1m-695 1h1m205 0h1m238 0h1m82 0h2m164 0h1m-696 1h1m206 0h1m237 0h1m85 0h2m161 0h1m-696 1h1m208 0h1m235 0h1m88 0h2m158 0h1m-697 1h2m209 0h1m235 0h1m90 0h2m155 0h1m-698 1h2m212 0h1m233 0h1m93 0h2m153 0h1m-700 1h2m214 0h1m232 0h1m96 0h2m6 0h9m135 0h1m-702 1h3m217 0h1m230 0h1m99 0h6m9 0h8m126 0h1m-703 1h2m220 0h1m230 0h1m122 0h11m114 0h1m-704 1h2m223 0h1m228 0h1m134 0h8m104 0h2m-705 1h2m226 0h1m226 0h1m143 0h1m102 0h1m-706 1h3m228 0h1m226 0h1m144 0h2m99 0h1m-707 1h2m232 0h1m224 0h1m147 0h1m97 0h1m-708 1h2m235 0h1m222 0h1m149 0h1m95 0h1m-709 1h2m237 0h1m221 0h1m151 0h2m92 0h1m-709 1h1m240 0h1m220 0h1m153 0h1m90 0h1m-708 1h1m241 0h1m218 0h1m155 0h1m87 0h2m-708 1h1m243 0h1m216 0h1m156 0h1m86 0h1m-707 1h1m244 0h1m216 0h1m157 0h1m84 0h1m-706 1h1m245 0h1m214 0h1m159 0h1m82 0h1m-706 1h1m247 0h1m213 0h1m159 0h1m81 0h1m-705 1h1m247 0h1m212 0h1m161 0h1m79 0h1m-705 1h1m249 0h1m210 0h1m162 0h1m77 0h2m-705 1h1m251 0h1m209 0h1m163 0h1m75 0h1m-703 1h1m251 0h1m208 0h1m165 0h1m73 0h1m-703 1h1m253 0h1m206 0h1m166 0h1m72 0h1m-703 1h1m255 0h1m205 0h1m167 0h1m70 0h1m-702 1h1m255 0h1m204 0h1m169 0h1m67 0h2m-702 1h1m257 0h1m203 0h1m170 0h1m65 0h1m-701 1h1m258 0h1m202 0h1m172 0h1m63 0h1m-700 1h1m259 0h1m200 0h1m174 0h1m60 0h2m-700 1h1m260 0h1m200 0h1m175 0h1m57 0h2m-699 1h1m262 0h1m198 0h1m177 0h1m53 0h3m-697 1h1m262 0h1m198 0h1m178 0h1m50 0h2m-772 1h1m76 0h1m264 0h1m196 0h1m180 0h1m47 0h2m-772 1h2m1 0h2m74 0h1m264 0h1m195 0h1m182 0h4m38 0h5m-772 1h2m5 0h2m71 0h1m266 0h1m194 0h1m186 0h8m23 0h7m-769 1h2m9 0h2m68 0h1m267 0h1m193 0h1m195 0h8m8 0h7m-764 1h2m13 0h2m66 0h1m268 0h1m191 0h1m204 0h8m-758 1h1m17 0h1m64 0h1m269 0h1m191 0h1m-548 1h2m19 0h1m62 0h1m271 0h1m189 0h1m-549 1h2m21 0h1m61 0h1m272 0h1m189 0h1m-551 1h2m24 0h1m59 0h1m274 0h1m187 0h1m-551 1h1m26 0h1m58 0h1m275 0h1m186 0h1m-552 1h2m28 0h1m56 0h1m277 0h1m184 0h1m-553 1h2m30 0h1m55 0h1m278 0h1m183 0h1m-554 1h2m33 0h1m53 0h1m280 0h1m100 0h9m73 0h1m-556 1h2m35 0h1m51 0h2m282 0h1m98 0h1m9 0h2m70 0h1m-556 1h1m38 0h1m49 0h1m284 0h1m97 0h1m12 0h1m68 0h1m-557 1h2m39 0h1m48 0h1m286 0h1m95 0h1m14 0h2m65 0h1m-558 1h2m42 0h1m46 0h1m288 0h1m93 0h1m17 0h2m62 0h1m-559 1h2m44 0h1m45 0h1m289 0h1m93 0h1m19 0h6m55 0h1m-559 1h1m47 0h1m43 0h1m291 0h1m91 0h1m26 0h8m46 0h1m-560 1h2m49 0h2m40 0h1m293 0h1m89 0h1m35 0h4m42 0h1m-562 1h2m53 0h1m38 0h1m294 0h1m88 0h1m40 0h4m37 0h1m-563 1h2m56 0h1m36 0h1m296 0h1m85 0h2m45 0h4m32 0h1m-564 1h2m59 0h2m32 0h2m297 0h1m82 0h3m51 0h2m28 0h2m-564 1h1m63 0h1m29 0h2m300 0h1m79 0h2m56 0h4m22 0h2m-497 1h1m26 0h2m303 0h1m76 0h2m62 0h6m13 0h3m-494 1h2m22 0h2m305 0h1m76 0h1m69 0h6m5 0h2m-489 1h2m18 0h2m308 0h1m74 0h1m76 0h5m-485 1h2m14 0h2m311 0h1m73 0h1m-402 1h2m10 0h2m313 0h1m72 0h1m-399 1h10m316 0h1m71 0h1m-73 1h1m70 0h1m-71 1h1m69 0h1m-71 1h1m69 0h1m-70 1h1m67 0h1m-69 1h1m67 0h1m-68 1h1m65 0h1m-67 1h1m65 0h1m-66 1h1m64 0h1m-66 1h1m63 0h1m-64 1h1m62 0h1m-64 1h1m61 0h1m-62 1h1m60 0h1m-62 1h1m59 0h1m-60 1h1m58 0h1m-60 1h1m58 0h1m-59 1h1m56 0h1m-58 1h1m56 0h1m-57 1h1m54 0h1m-56 1h1m54 0h1m-55 1h1m52 0h1"/>
</g>
<g id="candles" shape-rendering="crispEdges">
<g fill="#000">
<rect x="2" y="439" width="1" height="29"/>
<rect x="10" y="459" width="1" height="38"/>
<rect x="18" y="469" width="1" height="10"/>
<rect x="26" y="466" width="1" height="26"/>
<rect x="34" y="456" width="1" height="30"/>
<rect x="42" y="445" width="1" height="29"/>
<rect x="50" y="414" width="1" height="46"/>
<rect x="58" y="352" width="1" height="83"/>
<rect x="66" y="369" width="1" height="7"/>
<rect x="74" y="358" width="1" height="44"/>
<rect x="82" y="363" width="1" height="37"/>
<rect x="90" y="359" width="1" height="33"/>
<rect x="98" y="351" width="1" height="28"/>
<rect x="106" y="367" width="1" height="32"/>
<rect x="114" y="386" width="1" height="5"/>
<rect x="122" y="371" width="1" height="19"/>
<rect x="130" y="342" width="1" height="32"/>
<rect x="138" y="338" width="1" height="26"/>
<rect x="146" y="318" width="1" height="32"/>
<rect x="154" y="324" width="1" height="24"/>
<rect x="162" y="336" width="1" height="4"/>
<rect x="170" y="336" width="1" height="33"/>
<rect x="178" y="337" width="1" height="37"/>
<rect x="186" y="327" width="1" height="40"/>
<rect x="194" y="328" width="1" height="47"/>
<rect x="202" y="327" width="1" height="58"/>
<rect x="210" y="369" width="1" height="4"/>
<rect x="218" y="359" width="1" height="25"/>
<rect x="226" y="323" width="1" height="56"/>
<rect x="234" y="315" width="1" height="23"/>
<rect x="242" y="295" width="1" height="41"/>
<rect x="250" y="270" width="1" height="55"/>
<rect x="258" y="290" width="1" height="8"/>
<rect x="266" y="256" width="1" height="53"/>
<rect x="274" y="232" width="1" height="49"/>
<rect x="282" y="258" width="1" height="33"/>
<rect x="290" y="264" width="1" height="46"/>
<rect x="298" y="276" width="1" height="46"/>
<rect x="306" y="295" width="1" height="6"/>
<rect x="314" y="291" width="1" height="48"/>
<rect x="322" y="328" width="1" height="98"/>
<rect x="330" y="381" width="1" height="56"/>
<rect x="338" y="381" width="1" height="95"/>
<rect x="346" y="441" width="1" height="35"/>
<rect x="354" y="462" width="1" height="5"/>
<rect x="362" y="441" width="1" height="28"/>
<rect x="370" y="446" width="1" height="36"/>
<rect x="378" y="445" width="1" height="32"/>
<rect x="386" y="455" width="1" height="55"/>
<rect x="394" y="455" width="1" height="42"/>
<rect x="402" y="487" width="1" height="6"/>
<rect x="410" y="483" width="1" height="63"/>
<rect x="418" y="515" width="1" height="47"/>
<rect x="426" y="508" width="1" height="51"/>
<rect x="434" y="506" width="1" height="37"/>
<rect x="442" y="501" width="1" height="34"/>
<rect x="450" y="501" width="1" height="6"/>
<rect x="458" y="453" width="1" height="64"/>
<rect x="466" y="452" width="1" height="29"/>
<rect x="474" y="442" width="1" height="47"/>
<rect x="482" y="426" width="1" height="57"/>
<rect x="490" y="447" width="1" height="47"/>
<rect x="498" y="443" width="1" height="7"/>
<rect x="506" y="413" width="1" height="41"/>
<rect x="514" y="412" width="1" height="54"/>
<rect x="522" y="426" width="1" height="37"/>
<rect x="530" y="413" width="1" height="25"/>
<rect x="538" y="400" width="1" height="34"/>
<rect x="546" y="402" width="1" height="5"/>
<rect x="554" y="402" width="1" height="18"/>
<rect x="562" y="400" width="1" height="49"/>
<rect x="570" y="416" width="1" height="57"/>
<rect x="578" y="421" width="1" height="48"/>
<rect x="586" y="447" width="1" height="35"/>
<rect x="594" y="449" width="1" height="7"/>
<rect x="602" y="418" width="1" height="36"/>
<rect x="610" y="426" width="1" height="24"/>
<rect x="618" y="404" width="1" height="39"/>
<rect x="626" y="407" width="1" height="22"/>
<rect x="634" y="416" width="1" height="34"/>
<rect x="642" y="438" width="1" height="5"/>
<rect x="650" y="425" width="1" height="27"/>
<rect x="658" y="441" width="1" height="17"/>
<rect x="666" y="453" width="1" height="47"/>
<rect x="674" y="462" width="1" height="46"/>
<rect x="682" y="468" width="1" height="48"/>
<rect x="690" y="480" width="1" height="11"/>
<rect x="698" y="480" width="1" height="20"/>
<rect x="706" y="414" width="1" height="76"/>
<rect x="714" y="416" width="1" height="74"/>
<rect x="722" y="451" width="1" height="42"/>
<rect x="730" y="454" width="1" height="27"/>
<rect x="738" y="456" width="1" height="10"/>
<rect x="746" y="362" width="1" height="99"/>
<rect x="754" y="333" width="1" height="55"/>
<rect x="762" y="316" width="1" height="37"/>
<rect x="770" y="345" width="1" height="58"/>
<rect x="778" y="376" width="1" height="34"/>
<rect x="786" y="379" width="1" height="16"/>
<rect x="794" y="364" width="1" height="42"/>
<rect x="802" y="381" width="1" height="19"/>
<rect x="810" y="387" width="1" height="18"/>
<rect x="818" y="393" width="1" height="28"/>
<rect x="826" y="391" width="1" height="20"/>
<rect x="834" y="388" width="1" height="6"/>
<rect x="842" y="348" width="1" height="43"/>
<rect x="850" y="331" width="1" height="25"/>
<rect x="858" y="329" width="1" height="31"/>
<rect x="866" y="332" width="1" height="31"/>
<rect x="874" y="351" width="1" height="32"/>
<rect x="882" y="363" width="1" height="11"/>
<rect x="890" y="343" width="1" height="37"/>
<rect x="898" y="315" width="1" height="46"/>
<rect x="906" y="310" width="1" height="54"/>
<rect x="914" y="315" width="1" height="27"/>
<rect x="922" y="301" width="1" height="44"/>
<rect x="930" y="329" width="1" height="5"/>
<rect x="938" y="331" width="1" height="66"/>
<rect x="946" y="346" width="1" height="34"/>
<rect x="954" y="314" width="1" height="41"/>
<rect x="962" y="337" width="1" height="44"/>
<rect x="970" y="372" width="1" height="63"/>
<rect x="978" y="370" width="1" height="12"/>
<rect x="986" y="344" width="1" height="41"/>
<rect x="994" y="338" width="1" height="46"/>
<rect x="1002" y="323" width="1" height="33"/>
<rect x="1010" y="309" width="1" height="32"/>
<rect x="1018" y="314" width="1" height="35"/>
<rect x="1026" y="360" width="1" height="18"/>
<rect x="1034" y="342" width="1" height="88"/>
<rect x="1042" y="355" width="1" height="39"/>
<rect x="1050" y="315" width="1" height="61"/>
<rect x="1058" y="284" width="1" height="47"/>
<rect x="1066" y="308" width="1" height="9"/>
<rect x="1074" y="306" width="1" height="38"/>
<rect x="1082" y="320" width="1" height="19"/>
<rect x="1090" y="303" width="1" height="33"/>
<rect x="1098" y="283" width="1" height="31"/>
<rect x="1106" y="281" width="1" height="15"/>
<rect x="1114" y="282" width="1" height="52"/>
<rect x="1122" y="320" width="1" height="23"/>
<rect x="1130" y="306" width="1" height="28"/>
<rect x="1138" y="291" width="1" height="31"/>
<rect x="1146" y="279" width="1" height="22"/>
<rect x="1154" y="294" width="1" height="8"/>
<rect x="1162" y="296" width="1" height="20"/>
<rect x="1170" y="256" width="1" height="45"/>
<rect x="1178" y="249" width="1" height="25"/>
<rect x="1186" y="249" width="1" height="22"/>
<rect x="1194" y="252" width="1" height="42"/>
<rect x="1202" y="284" width="1" height="11"/>
<rect x="1210" y="288" width="1" height="25"/>
<rect x="1218" y="265" width="1" height="33"/>
<rect x="1226" y="246" width="1" height="43"/>
<rect x="1234" y="250" width="1" height="28"/>
<rect x="1242" y="250" width="1" height="26"/>
<rect x="1250" y="254" width="1" height="6"/>
<rect x="1258" y="246" width="1" height="24"/>
<rect x="1266" y="242" width="1" height="41"/>
<rect x="1274" y="228" width="1" height="23"/>
<rect x="1282" y="214" width="1" height="38"/>
<rect x="1290" y="193" width="1" height="31"/>
<rect x="1298" y="203" width="1" height="9"/>
<rect x="1306" y="186" width="1" height="29"/>
<rect x="1314" y="197" width="1" height="23"/>
<rect x="1322" y="200" width="1" height="20"/>
<rect x="1330" y="176" width="1" height="54"/>
<rect x="1338" y="159" width="1" height="23"/>
<rect x="1346" y="162" width="1" height="9"/>
<rect x="1354" y="158" width="1" height="18"/>
<rect x="1362" y="167" width="1" height="22"/>
<rect x="1370" y="153" width="1" height="25"/>
<rect x="1378" y="159" width="1" height="12"/>
<rect x="1386" y="139" width="1" height="34"/>
<rect x="1394" y="130" width="1" height="14"/>
<rect x="1402" y="98" width="1" height="36"/>
<rect x="1410" y="71" width="1" height="34"/>
<rect x="1418" y="75" width="1" height="33"/>
<rect x="1426" y="61" width="1" height="43"/>
<rect x="1434" y="48" width="1" height="31"/>
<rect x="0" y="447" width="5" height="15"/><rect x="8" y="460" width="5" height="17"/><rect x="16" y="475" width="5" height="2"/><rect x="24" y="472" width="5" height="3"/><rect x="32" y="466" width="5" height="6"/><rect x="40" y="449" width="5" height="18"/><rect x="48" y="417" width="5" height="33"/><rect x="56" y="373" width="5" height="45"/><rect x="64" y="370" width="5" height="4"/><rect x="72" y="370" width="5" height="2"/><rect x="80" y="370" width="5" height="17"/><rect x="88" y="374" width="5" height="13"/><rect x="96" y="369" width="5" height="6"/><rect x="104" y="369" width="5" height="16"/><rect x="112" y="388" width="5" height="1"/><rect x="120" y="372" width="5" height="16"/><rect x="128" y="359" width="5" height="15"/><rect x="136" y="346" width="5" height="14"/><rect x="144" y="331" width="5" height="16"/><rect x="152" y="331" width="5" height="12"/><rect x="160" y="337" width="5" height="2"/><rect x="168" y="336" width="5" height="26"/><rect x="176" y="343" width="5" height="19"/><rect x="184" y="343" width="5" height="14"/><rect x="192" y="335" width="5" height="23"/><rect x="200" y="335" width="5" height="40"/><rect x="208" y="369" width="5" height="4"/><rect x="216" y="372" width="5" height="3"/><rect x="224" y="328" width="5" height="47"/><rect x="232" y="327" width="5" height="2"/><rect x="240" y="298" width="5" height="30"/><rect x="248" y="299" width="5" height="5"/><rect x="256" y="291" width="5" height="3"/><rect x="264" y="269" width="5" height="25"/><rect x="272" y="260" width="5" height="10"/><rect x="280" y="261" width="5" height="5"/><rect x="288" y="265" width="5" height="37"/><rect x="296" y="286" width="5" height="16"/><rect x="304" y="297" width="5" height="1"/><rect x="312" y="297" width="5" height="32"/><rect x="320" y="328" width="5" height="87"/><rect x="328" y="390" width="5" height="25"/><rect x="336" y="390" width="5" height="74"/><rect x="344" y="462" width="5" height="9"/><rect x="352" y="464" width="5" height="2"/><rect x="360" y="463" width="5" height="4"/><rect x="368" y="466" width="5" height="3"/><rect x="376" y="455" width="5" height="14"/><rect x="384" y="456" width="5" height="11"/><rect x="392" y="465" width="5" height="26"/><rect x="400" y="488" width="5" height="4"/><rect x="408" y="488" width="5" height="35"/><rect x="416" y="522" width="5" height="12"/><rect x="424" y="532" width="5" height="2"/><rect x="432" y="512" width="5" height="21"/><rect x="440" y="512" width="5" height="3"/><rect x="448" y="502" width="5" height="4"/><rect x="456" y="469" width="5" height="35"/><rect x="464" y="462" width="5" height="9"/><rect x="472" y="454" width="5" height="9"/><rect x="480" y="454" width="5" height="7"/><rect x="488" y="450" width="5" height="12"/><rect x="496" y="446" width="5" height="2"/><rect x="504" y="415" width="5" height="32"/><rect x="512" y="415" width="5" height="43"/><rect x="520" y="431" width="5" height="27"/><rect x="528" y="420" width="5" height="12"/><rect x="536" y="403" width="5" height="19"/><rect x="544" y="403" width="5" height="3"/><rect x="552" y="405" width="5" height="2"/><rect x="560" y="406" width="5" height="41"/><rect x="568" y="433" width="5" height="14"/><rect x="576" y="433" width="5" height="31"/><rect x="584" y="451" width="5" height="13"/><rect x="592" y="451" width="5" height="5"/><rect x="600" y="442" width="5" height="10"/><rect x="608" y="439" width="5" height="5"/><rect x="616" y="412" width="5" height="27"/><rect x="624" y="412" width="5" height="9"/><rect x="632" y="421" width="5" height="24"/><rect x="640" y="439" width="5" height="4"/><rect x="648" y="439" width="5" height="8"/><rect x="656" y="446" width="5" height="8"/><rect x="664" y="453" width="5" height="26"/><rect x="672" y="478" width="5" height="11"/><rect x="680" y="473" width="5" height="16"/><rect x="688" y="484" width="5" height="7"/><rect x="696" y="484" width="5" height="5"/><rect x="704" y="422" width="5" height="63"/><rect x="712" y="421" width="5" height="61"/><rect x="720" y="457" width="5" height="26"/><rect x="728" y="457" width="5" height="10"/><rect x="736" y="458" width="5" height="5"/><rect x="744" y="378" width="5" height="81"/><rect x="752" y="339" width="5" height="40"/><rect x="760" y="339" width="5" height="8"/><rect x="768" y="346" width="5" height="51"/><rect x="776" y="395" width="5" height="4"/><rect x="784" y="380" width="5" height="14"/><rect x="792" y="380" width="5" height="7"/><rect x="800" y="386" width="5" height="5"/><rect x="808" y="390" width="5" height="15"/><rect x="816" y="405" width="5" height="5"/><rect x="824" y="398" width="5" height="12"/><rect x="832" y="389" width="5" height="4"/><rect x="840" y="349" width="5" height="41"/><rect x="848" y="337" width="5" height="13"/><rect x="856" y="334" width="5" height="5"/><rect x="864" y="334" width="5" height="19"/><rect x="872" y="352" width="5" height="28"/><rect x="880" y="367" width="5" height="6"/><rect x="888" y="356" width="5" height="12"/><rect x="896" y="326" width="5" height="31"/><rect x="904" y="325" width="5" height="14"/><rect x="912" y="336" width="5" height="3"/><rect x="920" y="327" width="5" height="10"/><rect x="928" y="332" width="5" height="2"/><rect x="936" y="331" width="5" height="32"/><rect x="944" y="353" width="5" height="10"/><rect x="952" y="346" width="5" height="8"/><rect x="960" y="346" width="5" height="28"/><rect x="968" y="374" width="5" height="35"/><rect x="976" y="377" width="5" height="2"/><rect x="984" y="373" width="5" height="6"/><rect x="992" y="346" width="5" height="28"/><rect x="1000" y="335" width="5" height="13"/><rect x="1008" y="327" width="5" height="9"/><rect x="1016" y="326" width="5" height="16"/><rect x="1024" y="366" width="5" height="5"/><rect x="1032" y="361" width="5" height="9"/><rect x="1040" y="360" width="5" height="10"/><rect x="1048" y="329" width="5" height="41"/><rect x="1056" y="313" width="5" height="18"/><rect x="1064" y="309" width="5" height="8"/><rect x="1072" y="308" width="5" height="30"/><rect x="1080" y="333" width="5" height="5"/><rect x="1088" y="306" width="5" height="28"/><rect x="1096" y="292" width="5" height="15"/><rect x="1104" y="283" width="5" height="13"/><rect x="1112" y="283" width="5" height="46"/><rect x="1120" y="326" width="5" height="3"/><rect x="1128" y="313" width="5" height="15"/><rect x="1136" y="297" width="5" height="18"/><rect x="1144" y="294" width="5" height="3"/><rect x="1152" y="299" width="5" height="3"/><rect x="1160" y="297" width="5" height="5"/><rect x="1168" y="264" width="5" height="34"/><rect x="1176" y="265" width="5" height="4"/><rect x="1184" y="255" width="5" height="13"/><rect x="1192" y="254" width="5" height="38"/><rect x="1200" y="291" width="5" height="3"/><rect x="1208" y="290" width="5" height="7"/><rect x="1216" y="265" width="5" height="32"/><rect x="1224" y="266" width="5" height="8"/><rect x="1232" y="254" width="5" height="21"/><rect x="1240" y="254" width="5" height="2"/><rect x="1248" y="256" width="5" height="4"/><rect x="1256" y="256" width="5" height="5"/><rect x="1264" y="245" width="5" height="16"/><rect x="1272" y="245" width="5" height="2"/><rect x="1280" y="218" width="5" height="28"/><rect x="1288" y="206" width="5" height="13"/><rect x="1296" y="204" width="5" height="5"/><rect x="1304" y="209" width="5" height="2"/><rect x="1312" y="208" width="5" height="2"/><rect x="1320" y="208" width="5" height="6"/><rect x="1328" y="178" width="5" height="36"/><rect x="1336" y="164" width="5" height="15"/><rect x="1344" y="163" width="5" height="7"/><rect x="1352" y="162" width="5" height="7"/><rect x="1360" y="169" width="5" height="5"/><rect x="1368" y="166" width="5" height="8"/><rect x="1376" y="166" width="5" height="2"/><rect x="1384" y="143" width="5" height="25"/><rect x="1392" y="131" width="5" height="12"/><rect x="1400" y="99" width="5" height="33"/><rect x="1408" y="76" width="5" height="26"/><rect x="1416" y="76" width="5" height="20"/><rect x="1424" y="70" width="5" height="26"/><rect x="1432" y="59" width="5" height="10"/>
</g><g fill="#fff">
<rect x="25" y="473" width="3" height="1"/><rect x="33" y="467" width="3" height="4"/><rect x="41" y="450" width="3" height="16"/><rect x="49" y="418" width="3" height="31"/><rect x="57" y="374" width="3" height="43"/><rect x="65" y="371" width="3" height="2"/><rect x="89" y="375" width="3" height="11"/><rect x="97" y="370" width="3" height="4"/><rect x="121" y="373" width="3" height="14"/><rect x="129" y="360" width="3" height="13"/><rect x="137" y="347" width="3" height="12"/><rect x="145" y="332" width="3" height="14"/><rect x="177" y="344" width="3" height="17"/><rect x="193" y="336" width="3" height="21"/><rect x="225" y="329" width="3" height="45"/><rect x="241" y="299" width="3" height="28"/><rect x="265" y="270" width="3" height="23"/><rect x="273" y="261" width="3" height="8"/><rect x="297" y="287" width="3" height="14"/><rect x="329" y="391" width="3" height="23"/><rect x="377" y="456" width="3" height="12"/><rect x="401" y="489" width="3" height="2"/><rect x="433" y="513" width="3" height="19"/><rect x="449" y="503" width="3" height="2"/><rect x="457" y="470" width="3" height="33"/><rect x="465" y="463" width="3" height="7"/><rect x="473" y="455" width="3" height="7"/><rect x="489" y="451" width="3" height="10"/><rect x="505" y="416" width="3" height="30"/><rect x="521" y="432" width="3" height="25"/><rect x="529" y="421" width="3" height="10"/><rect x="537" y="404" width="3" height="17"/><rect x="569" y="434" width="3" height="12"/><rect x="585" y="452" width="3" height="11"/><rect x="593" y="452" width="3" height="3"/><rect x="601" y="443" width="3" height="8"/><rect x="609" y="440" width="3" height="3"/><rect x="617" y="413" width="3" height="25"/><rect x="641" y="440" width="3" height="2"/><rect x="681" y="474" width="3" height="14"/><rect x="697" y="485" width="3" height="3"/><rect x="705" y="423" width="3" height="61"/><rect x="721" y="458" width="3" height="24"/><rect x="737" y="459" width="3" height="3"/><rect x="745" y="379" width="3" height="79"/><rect x="753" y="340" width="3" height="38"/><rect x="785" y="381" width="3" height="12"/><rect x="825" y="399" width="3" height="10"/><rect x="833" y="390" width="3" height="2"/><rect x="841" y="350" width="3" height="39"/><rect x="849" y="338" width="3" height="11"/><rect x="857" y="335" width="3" height="3"/><rect x="881" y="368" width="3" height="4"/><rect x="889" y="357" width="3" height="10"/><rect x="897" y="327" width="3" height="29"/><rect x="913" y="337" width="3" height="1"/><rect x="921" y="328" width="3" height="8"/><rect x="945" y="354" width="3" height="8"/><rect x="953" y="347" width="3" height="6"/><rect x="985" y="374" width="3" height="4"/><rect x="993" y="347" width="3" height="26"/><rect x="1001" y="336" width="3" height="11"/><rect x="1009" y="328" width="3" height="7"/><rect x="1033" y="362" width="3" height="7"/><rect x="1049" y="330" width="3" height="39"/><rect x="1057" y="314" width="3" height="16"/><rect x="1065" y="310" width="3" height="6"/><rect x="1081" y="334" width="3" height="3"/><rect x="1089" y="307" width="3" height="26"/><rect x="1097" y="293" width="3" height="13"/><rect x="1105" y="284" width="3" height="11"/><rect x="1129" y="314" width="3" height="13"/><rect x="1137" y="298" width="3" height="16"/><rect x="1145" y="295" width="3" height="1"/><rect x="1161" y="298" width="3" height="3"/><rect x="1169" y="265" width="3" height="32"/><rect x="1185" y="256" width="3" height="11"/><rect x="1201" y="292" width="3" height="1"/><rect x="1217" y="266" width="3" height="30"/><rect x="1233" y="255" width="3" height="19"/><rect x="1249" y="257" width="3" height="2"/><rect x="1265" y="246" width="3" height="14"/><rect x="1281" y="219" width="3" height="26"/><rect x="1289" y="207" width="3" height="11"/><rect x="1329" y="179" width="3" height="34"/><rect x="1337" y="165" width="3" height="13"/><rect x="1345" y="164" width="3" height="5"/><rect x="1369" y="167" width="3" height="6"/><rect x="1385" y="144" width="3" height="23"/><rect x="1393" y="132" width="3" height="10"/><rect x="1401" y="100" width="3" height="31"/><rect x="1409" y="77" width="3" height="24"/><rect x="1425" y="71" width="3" height="24"/><rect x="1433" y="60" width="3" height="8"/>
</g></g>
<g id="labels">
<g class="plabel"><rect x="203.5" y="223.5" width="61.0" height="18.0" fill="#fff" stroke="#ff0000" stroke-width="1" shape-rendering="crispEdges"/><rect x="265" y="232" width="10" height="1" fill="#ff0000" shape-rendering="crispEdges"/><text x="234.0" y="239.0"  font-size="16.5px" fill="#ff0000" stroke="#ff0000" stroke-width="0.3" text-anchor="middle" textLength="58.4" lengthAdjust="spacingAndGlyphs">142.715</text></g>
<g class="plabel"><rect x="347.5" y="551.5" width="61.0" height="18.0" fill="#fff" stroke="#ff0000" stroke-width="1" shape-rendering="crispEdges"/><rect x="409" y="560" width="10" height="1" fill="#ff0000" shape-rendering="crispEdges"/><text x="378.0" y="567.0"  font-size="16.5px" fill="#ff0000" stroke="#ff0000" stroke-width="0.3" text-anchor="middle" textLength="58.4" lengthAdjust="spacingAndGlyphs">133.049</text></g>
<g class="plabel"><rect x="611.5" y="506.5" width="61.0" height="18.0" fill="#fff" stroke="#ff0000" stroke-width="1" shape-rendering="crispEdges"/><rect x="673" y="515" width="10" height="1" fill="#ff0000" shape-rendering="crispEdges"/><text x="642.0" y="522.0"  font-size="16.5px" fill="#ff0000" stroke="#ff0000" stroke-width="0.3" text-anchor="middle" textLength="58.4" lengthAdjust="spacingAndGlyphs">134.382</text></g>
<g class="plabel"><rect x="691.5" y="307.5" width="61.0" height="18.0" fill="#fff" stroke="#ff0000" stroke-width="1" shape-rendering="crispEdges"/><rect x="753" y="316" width="10" height="1" fill="#ff0000" shape-rendering="crispEdges"/><text x="722.0" y="323.0"  font-size="16.5px" fill="#ff0000" stroke="#ff0000" stroke-width="0.3" text-anchor="middle" textLength="58.4" lengthAdjust="spacingAndGlyphs">140.248</text></g>
<g class="plabel"><rect x="963.5" y="420.5" width="61.0" height="18.0" fill="#fff" stroke="#ff0000" stroke-width="1" shape-rendering="crispEdges"/><rect x="1025" y="429" width="10" height="1" fill="#ff0000" shape-rendering="crispEdges"/><text x="994.0" y="436.0"  font-size="16.5px" fill="#ff0000" stroke="#ff0000" stroke-width="0.3" text-anchor="middle" textLength="58.4" lengthAdjust="spacingAndGlyphs">136.933</text></g>
<g class="plabel"><rect x="987.5" y="276.5" width="61.0" height="18.0" fill="#fff" stroke="#ff0000" stroke-width="1" shape-rendering="crispEdges"/><rect x="1049" y="285" width="10" height="1" fill="#ff0000" shape-rendering="crispEdges"/><text x="1018.0" y="292.0"  font-size="16.5px" fill="#ff0000" stroke="#ff0000" stroke-width="0.3" text-anchor="middle" textLength="58.4" lengthAdjust="spacingAndGlyphs">141.159</text></g>
</g>
<rect x="970" y="420" width="1" height="15" fill="#000" shape-rendering="crispEdges"/>
<g id="biglabel">
<rect x="1307" y="68" width="8" height="1" fill="#ff0000" shape-rendering="crispEdges"/>
<rect x="1314.5" y="66.5" width="3" height="3" fill="#fff" stroke="#ff0000" shape-rendering="crispEdges"/>
<rect x="1317.5" y="56.5" width="73" height="24" fill="#fff" stroke="#ff0000" shape-rendering="crispEdges"/>
<text x="1354.3" y="77" font-size="22.3px" fill="#ff0000" stroke="#ff0000" stroke-width="0.45" text-anchor="middle" textLength="71.5" lengthAdjust="spacingAndGlyphs">147.547</text>
</g>
<rect x="1397" y="66" width="115" height="6" fill="#00ff00" shape-rendering="crispEdges"/>
<text class="sg" x="1523.6" y="98.7" font-size="20.2px" font-weight="300" fill="#00ff00" textLength="107" lengthAdjust="spacing">多空转折点</text>
<polygon points="1442,22 1451,22 1446.5,27" fill="#b0b0b0"/>
<g id="arrows">
<line x1="1043.0" y1="394.2" x2="1458.0" y2="55.9" stroke="#ff0000" stroke-width="3.5"/><polygon points="1465.0,50.2 1459.5,60.9 1453.4,53.4" fill="#ff0000"/>
<line x1="1063.0" y1="654.6" x2="1414.1" y2="595.8" stroke="#ff0000" stroke-width="3.6"/><polygon points="1422.0,594.5 1412.9,600.9 1411.3,591.4" fill="#ff0000"/>
<line x1="1190.0" y1="831.6" x2="1391.2" y2="782.4" stroke="#ff0000" stroke-width="3.1"/><polygon points="1399.0,780.5 1390.3,787.1 1388.2,778.6" fill="#ff0000"/>
<line x1="1395.0" y1="780.5" x2="1426.5" y2="780.5" stroke="#ff0000" stroke-width="3.1"/><polygon points="1434.5,780.5 1424.5,784.9 1424.5,776.1" fill="#ff0000"/>
</g>
<g id="axis" font-size="9.9px" fill="#000" stroke="#000" stroke-width="0.25">
<text x="1690.4" y="80" textLength="32.9" lengthAdjust="spacingAndGlyphs">147.335</text>
<text x="1690.4" y="113.0" textLength="32.9" lengthAdjust="spacingAndGlyphs">146.360</text>
<text x="1690.4" y="146.0" textLength="32.9" lengthAdjust="spacingAndGlyphs">145.385</text>
<text x="1690.4" y="179.0" textLength="32.9" lengthAdjust="spacingAndGlyphs">144.410</text>
<text x="1690.4" y="212.0" textLength="32.9" lengthAdjust="spacingAndGlyphs">143.435</text>
<text x="1690.4" y="245.0" textLength="32.9" lengthAdjust="spacingAndGlyphs">142.460</text>
<text x="1690.4" y="278.0" textLength="32.9" lengthAdjust="spacingAndGlyphs">141.485</text>
<text x="1690.4" y="311.0" textLength="32.9" lengthAdjust="spacingAndGlyphs">140.510</text>
<text x="1690.4" y="344.0" textLength="32.9" lengthAdjust="spacingAndGlyphs">139.535</text>
<text x="1690.4" y="377.0" textLength="32.9" lengthAdjust="spacingAndGlyphs">138.560</text>
<text x="1690.4" y="410.0" textLength="32.9" lengthAdjust="spacingAndGlyphs">137.585</text>
<text x="1690.4" y="443.0" textLength="32.9" lengthAdjust="spacingAndGlyphs">136.610</text>
<text x="1690.4" y="476.0" textLength="32.9" lengthAdjust="spacingAndGlyphs">135.660</text>
<text x="1690.4" y="509.0" textLength="32.9" lengthAdjust="spacingAndGlyphs">134.685</text>
<text x="1690.4" y="542.0" textLength="32.9" lengthAdjust="spacingAndGlyphs">133.710</text>
<text x="1690.4" y="574.7" textLength="32.9" lengthAdjust="spacingAndGlyphs">132.735</text>
<rect x="1686" y="23" width="41" height="11" fill="#ff0000" stroke="none" shape-rendering="crispEdges"/> <text x="1690.2" y="31.8" fill="#fff" stroke="#fff" stroke-width="0.25" textLength="32.6" lengthAdjust="spacingAndGlyphs">148.694</text>
<rect x="1686" y="38" width="41" height="11" fill="#ff0000" stroke="none" shape-rendering="crispEdges"/> <text x="1690.2" y="46.8" fill="#fff" stroke="#fff" stroke-width="0.25" textLength="32.6" lengthAdjust="spacingAndGlyphs">148.253</text>
<rect x="1686" y="54" width="41" height="11" fill="#000000" stroke="none" shape-rendering="crispEdges"/> <text x="1690.2" y="62.8" fill="#fff" stroke="#fff" stroke-width="0.25" textLength="32.6" lengthAdjust="spacingAndGlyphs">147.812</text>
<rect x="1686" y="62" width="41" height="11" fill="#32cd32" stroke="none" shape-rendering="crispEdges"/> <text x="1690.2" y="70.8" fill="#fff" stroke="#fff" stroke-width="0.25" textLength="32.6" lengthAdjust="spacingAndGlyphs">147.547</text>
<rect x="1686" y="75" width="41" height="11" fill="#0000ff" stroke="none" shape-rendering="crispEdges"/> <text x="1690.2" y="83.8" fill="#fff" stroke="#fff" stroke-width="0.25" textLength="32.6" lengthAdjust="spacingAndGlyphs">147.164</text>
<rect x="1686" y="92" width="41" height="11" fill="#0000ff" stroke="none" shape-rendering="crispEdges"/> <text x="1690.2" y="100.8" fill="#fff" stroke="#fff" stroke-width="0.25" textLength="32.6" lengthAdjust="spacingAndGlyphs">146.664</text>
<rect x="1679.5" y="27.5" width="4" height="4" fill="#fff" stroke="#ff0000" stroke-width="1" shape-rendering="crispEdges"/>
<rect x="1679.5" y="42.5" width="4" height="4" fill="#fff" stroke="#ff0000" stroke-width="1" shape-rendering="crispEdges"/>
<rect x="1679.5" y="79.5" width="4" height="4" fill="#fff" stroke="#0000ff" stroke-width="1" shape-rendering="crispEdges"/>
<text x="1687.6" y="586.9" textLength="29" lengthAdjust="spacingAndGlyphs">1.5549</text>
<text x="1688" y="668" textLength="18.6" lengthAdjust="spacingAndGlyphs">0.00</text>
<text x="1687.6" y="742.9" textLength="31.5" lengthAdjust="spacingAndGlyphs">-1.4599</text>
<text x="1687.6" y="758.9" textLength="15.6" lengthAdjust="spacingAndGlyphs">100</text>
<text x="1687.3" y="788.2" textLength="10.4" lengthAdjust="spacingAndGlyphs">80</text>
<text x="1687.3" y="839.2" textLength="10.4" lengthAdjust="spacingAndGlyphs">50</text>
<text x="1687.6" y="900.3" textLength="10.4" lengthAdjust="spacingAndGlyphs">15</text>
<text x="1688" y="919.1">0</text>
</g>
<g id="dates" font-size="9.8px" fill="#000" stroke="#000" stroke-width="0.25">
<text x="-7.4" y="934.9" textLength="48.2" lengthAdjust="spacingAndGlyphs">22 Jul 2020</text>
<text x="57.1" y="934.9" textLength="48.2" lengthAdjust="spacingAndGlyphs">31 Jul 2020</text>
<text x="121.1" y="934.9" textLength="52.3" lengthAdjust="spacingAndGlyphs">10 Aug 2020</text>
<text x="185.1" y="934.9" textLength="52.3" lengthAdjust="spacingAndGlyphs">19 Aug 2020</text>
<text x="249.1" y="934.9" textLength="52.3" lengthAdjust="spacingAndGlyphs">28 Aug 2020</text>
<text x="313.1" y="934.9" textLength="47.7" lengthAdjust="spacingAndGlyphs">7 Sep 2020</text>
<text x="377.1" y="934.9" textLength="52.9" lengthAdjust="spacingAndGlyphs">16 Sep 2020</text>
<text x="441.1" y="934.9" textLength="52.9" lengthAdjust="spacingAndGlyphs">25 Sep 2020</text>
<text x="505.1" y="934.9" textLength="45.6" lengthAdjust="spacingAndGlyphs">5 Oct 2020</text>
<text x="569.1" y="934.9" textLength="50.8" lengthAdjust="spacingAndGlyphs">14 Oct 2020</text>
<text x="633.1" y="934.9" textLength="50.8" lengthAdjust="spacingAndGlyphs">23 Oct 2020</text>
<text x="697.1" y="934.9" textLength="47.7" lengthAdjust="spacingAndGlyphs">2 Nov 2020</text>
<text x="761.1" y="934.9" textLength="52.2" lengthAdjust="spacingAndGlyphs">11 Nov 2020</text>
<text x="825.1" y="934.9" textLength="52.8" lengthAdjust="spacingAndGlyphs">20 Nov 2020</text>
<text x="889.1" y="934.9" textLength="52.8" lengthAdjust="spacingAndGlyphs">30 Nov 2020</text>
<text x="953.1" y="934.9" textLength="47.7" lengthAdjust="spacingAndGlyphs">9 Dec 2020</text>
<text x="1017.1" y="934.9" textLength="52.8" lengthAdjust="spacingAndGlyphs">18 Dec 2020</text>
<text x="1081.1" y="934.9" textLength="52.8" lengthAdjust="spacingAndGlyphs">29 Dec 2020</text>
<text x="1145.1" y="934.9" textLength="46.1" lengthAdjust="spacingAndGlyphs">8 Jan 2021</text>
<text x="1209.1" y="934.9" textLength="51.3" lengthAdjust="spacingAndGlyphs">18 Jan 2021</text>
<text x="1273.1" y="934.9" textLength="51.3" lengthAdjust="spacingAndGlyphs">27 Jan 2021</text>
<text x="1337.1" y="934.9" textLength="47.2" lengthAdjust="spacingAndGlyphs">5 Feb 2021</text>
<text x="1401.1" y="934.9" textLength="52.3" lengthAdjust="spacingAndGlyphs">15 Feb 2021</text>
</g>
<g id="macd">
<g fill="#c0c0c0" shape-rendering="crispEdges">
<rect x="2" y="637" width="1" height="28"/>
<rect x="10" y="638" width="1" height="27"/>
<rect x="18" y="639" width="1" height="26"/>
<rect x="26" y="640" width="1" height="25"/>
<rect x="34" y="639" width="1" height="26"/>
<rect x="42" y="637" width="1" height="28"/>
<rect x="50" y="632" width="1" height="33"/>
<rect x="58" y="622" width="1" height="43"/>
<rect x="66" y="615" width="1" height="50"/>
<rect x="74" y="610" width="1" height="55"/>
<rect x="82" y="609" width="1" height="56"/>
<rect x="90" y="607" width="1" height="58"/>
<rect x="98" y="605" width="1" height="60"/>
<rect x="106" y="605" width="1" height="60"/>
<rect x="114" y="609" width="1" height="56"/>
<rect x="122" y="609" width="1" height="56"/>
<rect x="130" y="608" width="1" height="57"/>
<rect x="138" y="607" width="1" height="58"/>
<rect x="146" y="604" width="1" height="61"/>
<rect x="154" y="604" width="1" height="61"/>
<rect x="162" y="604" width="1" height="61"/>
<rect x="170" y="608" width="1" height="57"/>
<rect x="178" y="610" width="1" height="55"/>
<rect x="186" y="613" width="1" height="52"/>
<rect x="194" y="614" width="1" height="51"/>
<rect x="202" y="620" width="1" height="45"/>
<rect x="210" y="625" width="1" height="40"/>
<rect x="218" y="628" width="1" height="37"/>
<rect x="226" y="627" width="1" height="38"/>
<rect x="234" y="626" width="1" height="39"/>
<rect x="242" y="622" width="1" height="43"/>
<rect x="250" y="619" width="1" height="46"/>
<rect x="258" y="617" width="1" height="48"/>
<rect x="266" y="612" width="1" height="53"/>
<rect x="274" y="608" width="1" height="57"/>
<rect x="282" y="606" width="1" height="59"/>
<rect x="290" y="610" width="1" height="55"/>
<rect x="298" y="612" width="1" height="53"/>
<rect x="306" y="615" width="1" height="50"/>
<rect x="314" y="622" width="1" height="43"/>
<rect x="322" y="640" width="1" height="25"/>
<rect x="330" y="651" width="1" height="14"/>
<rect x="338" y="664" width="1" height="4"/>
<rect x="346" y="664" width="1" height="19"/>
<rect x="354" y="664" width="1" height="30"/>
<rect x="362" y="664" width="1" height="38"/>
<rect x="370" y="664" width="1" height="45"/>
<rect x="378" y="664" width="1" height="47"/>
<rect x="386" y="664" width="1" height="51"/>
<rect x="394" y="664" width="1" height="56"/>
<rect x="402" y="664" width="1" height="59"/>
<rect x="410" y="664" width="1" height="65"/>
<rect x="418" y="664" width="1" height="70"/>
<rect x="426" y="664" width="1" height="74"/>
<rect x="434" y="664" width="1" height="73"/>
<rect x="442" y="664" width="1" height="72"/>
<rect x="450" y="664" width="1" height="69"/>
<rect x="458" y="664" width="1" height="61"/>
<rect x="466" y="664" width="1" height="53"/>
<rect x="474" y="664" width="1" height="46"/>
<rect x="482" y="664" width="1" height="40"/>
<rect x="490" y="664" width="1" height="34"/>
<rect x="498" y="664" width="1" height="28"/>
<rect x="506" y="664" width="1" height="19"/>
<rect x="514" y="664" width="1" height="17"/>
<rect x="522" y="664" width="1" height="12"/>
<rect x="530" y="664" width="1" height="7"/>
<rect x="538" y="664" width="1" height="1"/>
<rect x="546" y="660" width="1" height="5"/>
<rect x="554" y="657" width="1" height="8"/>
<rect x="562" y="659" width="1" height="6"/>
<rect x="570" y="660" width="1" height="5"/>
<rect x="578" y="664" width="1" height="2"/>
<rect x="586" y="664" width="1" height="2"/>
<rect x="594" y="664" width="1" height="2"/>
<rect x="602" y="664" width="1" height="1"/>
<rect x="610" y="664" width="1" height="1"/>
<rect x="618" y="660" width="1" height="5"/>
<rect x="626" y="663" width="1" height="2"/>
<rect x="634" y="663" width="1" height="2"/>
<rect x="642" y="663" width="1" height="2"/>
<rect x="650" y="664" width="1" height="1"/>
<rect x="658" y="664" width="1" height="1"/>
<rect x="666" y="664" width="1" height="6"/>
<rect x="674" y="664" width="1" height="12"/>
<rect x="682" y="664" width="1" height="13"/>
<rect x="690" y="664" width="1" height="16"/>
<rect x="698" y="664" width="1" height="19"/>
<rect x="706" y="664" width="1" height="12"/>
<rect x="714" y="664" width="1" height="13"/>
<rect x="722" y="664" width="1" height="12"/>
<rect x="730" y="664" width="1" height="12"/>
<rect x="738" y="664" width="1" height="10"/>
<rect x="746" y="664" width="1" height="1"/>
<rect x="754" y="650" width="1" height="15"/>
<rect x="762" y="640" width="1" height="25"/>
<rect x="770" y="639" width="1" height="26"/>
<rect x="778" y="638" width="1" height="27"/>
<rect x="786" y="636" width="1" height="29"/>
<rect x="794" y="634" width="1" height="31"/>
<rect x="802" y="636" width="1" height="29"/>
<rect x="810" y="638" width="1" height="27"/>
<rect x="818" y="641" width="1" height="24"/>
<rect x="826" y="642" width="1" height="23"/>
<rect x="834" y="642" width="1" height="23"/>
<rect x="842" y="637" width="1" height="28"/>
<rect x="850" y="632" width="1" height="33"/>
<rect x="858" y="628" width="1" height="37"/>
<rect x="866" y="628" width="1" height="37"/>
<rect x="874" y="631" width="1" height="34"/>
<rect x="882" y="633" width="1" height="32"/>
<rect x="890" y="633" width="1" height="32"/>
<rect x="898" y="630" width="1" height="35"/>
<rect x="906" y="629" width="1" height="36"/>
<rect x="914" y="628" width="1" height="37"/>
<rect x="922" y="628" width="1" height="37"/>
<rect x="930" y="628" width="1" height="37"/>
<rect x="938" y="632" width="1" height="33"/>
<rect x="946" y="634" width="1" height="31"/>
<rect x="954" y="637" width="1" height="28"/>
<rect x="962" y="642" width="1" height="23"/>
<rect x="970" y="651" width="1" height="14"/>
<rect x="978" y="654" width="1" height="11"/>
<rect x="986" y="655" width="1" height="10"/>
<rect x="994" y="654" width="1" height="11"/>
<rect x="1002" y="651" width="1" height="14"/>
<rect x="1010" y="647" width="1" height="18"/>
<rect x="1018" y="648" width="1" height="17"/>
<rect x="1026" y="651" width="1" height="14"/>
<rect x="1034" y="653" width="1" height="12"/>
<rect x="1042" y="655" width="1" height="10"/>
<rect x="1050" y="653" width="1" height="12"/>
<rect x="1058" y="647" width="1" height="18"/>
<rect x="1066" y="645" width="1" height="20"/>
<rect x="1074" y="646" width="1" height="19"/>
<rect x="1082" y="646" width="1" height="19"/>
<rect x="1090" y="643" width="1" height="22"/>
<rect x="1098" y="639" width="1" height="26"/>
<rect x="1106" y="634" width="1" height="31"/>
<rect x="1114" y="638" width="1" height="27"/>
<rect x="1122" y="641" width="1" height="24"/>
<rect x="1130" y="641" width="1" height="24"/>
<rect x="1138" y="639" width="1" height="26"/>
<rect x="1146" y="637" width="1" height="28"/>
<rect x="1154" y="636" width="1" height="29"/>
<rect x="1162" y="635" width="1" height="30"/>
<rect x="1170" y="633" width="1" height="32"/>
<rect x="1178" y="632" width="1" height="33"/>
<rect x="1186" y="630" width="1" height="35"/>
<rect x="1194" y="634" width="1" height="31"/>
<rect x="1202" y="635" width="1" height="30"/>
<rect x="1210" y="638" width="1" height="27"/>
<rect x="1218" y="635" width="1" height="30"/>
<rect x="1226" y="636" width="1" height="29"/>
<rect x="1234" y="634" width="1" height="31"/>
<rect x="1242" y="634" width="1" height="31"/>
<rect x="1250" y="633" width="1" height="32"/>
<rect x="1258" y="634" width="1" height="31"/>
<rect x="1266" y="634" width="1" height="31"/>
<rect x="1274" y="632" width="1" height="33"/>
<rect x="1282" y="628" width="1" height="37"/>
<rect x="1290" y="625" width="1" height="40"/>
<rect x="1298" y="622" width="1" height="43"/>
<rect x="1306" y="621" width="1" height="44"/>
<rect x="1314" y="620" width="1" height="45"/>
<rect x="1322" y="621" width="1" height="44"/>
<rect x="1330" y="617" width="1" height="48"/>
<rect x="1338" y="613" width="1" height="52"/>
<rect x="1346" y="611" width="1" height="54"/>
<rect x="1354" y="610" width="1" height="55"/>
<rect x="1362" y="611" width="1" height="54"/>
<rect x="1370" y="611" width="1" height="54"/>
<rect x="1378" y="612" width="1" height="53"/>
<rect x="1386" y="610" width="1" height="55"/>
<rect x="1394" y="606" width="1" height="59"/>
<rect x="1402" y="601" width="1" height="64"/>
<rect x="1410" y="597" width="1" height="68"/>
<rect x="1418" y="596" width="1" height="69"/>
<rect x="1426" y="590" width="1" height="75"/>
<rect x="1434" y="585" width="1" height="80"/>
</g>
<path d="M1432 600h3m-7 1h1m-3 1h2m-7 1h2m-3 1h1m-1265 1h3m3 0h3m1249 0h3m-1273 1h3m3 0h3m15 0h3m3 0h3m3 0h3m1227 0h1m-1273 1h3m45 0h3m3 0h3m1213 0h2m-1282 1h1m3 0h3m63 0h3m1201 0h3m-1284 1h2m3 0h2m76 0h3m1190 0h2m-1279 1h1m89 0h1m1185 0h1m-1281 1h1m94 0h2m1177 0h3m-1279 1h2m100 0h3m1160 0h2m3 0h3m-1277 1h1m195 0h3m3 0h1m1059 0h3m3 0h1m-1271 1h2m112 0h1m77 0h3m10 0h2m3 0h3m1045 0h3m-1146 1h2m69 0h3m1063 0h3m-1261 1h3m183 0h3m33 0h2m1028 0h3m-1129 1h3m95 0h1m1021 0h3m-1253 1h1m135 0h3m45 0h3m1059 0h1m-1249 1h2m142 0h3m34 0h2m51 0h2m1010 0h2m-1098 1h1m23 0h3m3 0h1m55 0h1m1004 0h2m-1247 1h1m154 0h2m3 0h3m3 0h3m3 0h3m1069 0h1m-1247 1h2m244 1h1m993 0h3m-1247 1h1m250 0h2m986 0h2m-1243 1h2m1238 0h1m-7 1h3m-1241 1h1m1231 0h3m-1237 1h2m262 0h1m963 0h3m-966 1h1m566 0h3m3 0h3m3 0h3m3 0h3m3 0h3m3 0h3m3 0h1m353 0h3m-1230 1h2m269 0h1m559 0h3m40 0h2m3 0h3m339 0h3m-1225 1h1m826 0h2m57 0h3m327 0h3m-1223 1h1m829 0h1m65 0h2m316 0h3m-1219 1h2m819 0h2m3 0h3m71 0h1m250 0h2m3 0h3m3 0h3m3 0h3m3 0h3m3 0h2m23 0h2m3 0h3m-1218 1h2m284 0h1m527 0h2m3 0h3m3 0h1m83 0h3m226 0h2m3 0h3m3 0h3m3 0h1m31 0h1m3 0h3m3 0h3m3 0h3m3 0h1m-1211 1h1m287 0h1m515 0h1m3 0h3m3 0h1m312 0h2m3 0h3m3 0h1m-1144 1h2m292 0h1m506 0h3m3 0h2m112 0h2m198 0h1m3 0h3m3 0h1m-1133 1h1m767 0h1m3 0h3m3 0h2m16 0h3m125 0h1m189 0h3m3 0h2m-1128 1h3m769 0h2m12 0h1m3 0h3m3 0h3m135 0h2m172 0h3m3 0h3m-1127 1h1m3 0h3m770 0h2m167 0h1m159 0h3m3 0h3m-1117 1h2m314 0h1m461 0h1m173 0h2m142 0h3m3 0h3m-1110 1h2m320 0h1m455 0h2m179 0h1m130 0h2m3 0h3m-1099 1h1m323 0h1m453 0h1m185 0h2m124 0h1m-1097 1h3m969 0h1m117 0h3m-1099 1h3m782 0h2m195 0h2m106 0h3m-1105 1h3m3 0h3m787 0h1m199 0h1m94 0h2m3 0h3m-1105 1h3m354 0h1m648 0h3m81 0h3m3 0h1m-739 1h1m438 0h2m213 0h1m65 0h3m3 0h3m-728 1h1m436 0h1m216 0h2m3 0h1m49 0h1m3 0h3m-56 1h2m3 0h1m35 0h3m3 0h2m-277 1h2m232 0h2m3 0h3m16 0h2m3 0h3m-267 1h1m245 0h3m3 0h3m3 0h1m-687 1h1m-1 1h1m0 1h1m422 0h1m-3 1h2m-420 3h1m413 0h1m-414 1h1m410 0h2m-412 1h1m405 1h1m-183 1h3m3 0h3m3 0h3m3 0h3m3 0h3m3 0h3m3 0h3m141 0h2m-188 1h3m45 0h3m3 0h3m3 0h3m3 0h3m3 0h3m-290 1h1m208 0h3m81 0h3m101 0h1m-398 1h1m202 0h3m93 0h3m3 0h1m90 0h1m-396 1h1m304 0h2m3 0h3m81 0h1m-198 1h2m-3 1h1m119 0h3m70 0h2m-69 1h3m63 0h1m-386 1h1m188 0h1m135 0h1m-325 1h1m185 0h2m137 0h2m52 0h2m-380 1h1m328 0h3m45 0h1m-43 1h2m-157 1h2m155 0h1m34 0h2m-195 1h1m161 0h3m3 0h2m22 0h1m-369 1h1m345 0h1m3 0h3m3 0h3m3 0h3m-365 1h1m0 1h1m169 0h2m-3 1h1m-5 2h1m-163 1h1m160 0h1m-161 1h1m158 0h1m-159 1h1m152 1h2m-3 1h1m-150 2h1m144 0h1m-146 1h1m143 0h1m-144 1h1m141 0h1m-5 3h1m-135 1h1m132 0h1m-133 1h1m130 0h1m-131 1h1m125 2h1m-2 1h1m-122 1h1m119 0h1m-120 1h1m0 1h1m113 1h1m-2 1h1m-2 1h1m-109 1h1m0 1h1m0 1h1m101 0h1m-2 1h1m-98 1h1m95 0h1m-96 1h1m0 1h1m89 1h1m-87 1h1m84 0h1m-85 1h1m82 0h1m-83 1h1m77 1h1m-75 1h1m71 0h2m-73 1h2m65 1h1m-2 1h1m-62 1h2m58 0h1m-59 1h1m3 1h1m48 0h2m-50 1h2m45 0h1m-43 1h2m0 1h1m33 0h3m-33 1h2m24 0h1m-25 1h1m21 0h2m-20 1h3m3 0h3m3 0h3" fill="none" stroke="#ff0000" stroke-width="1" shape-rendering="crispEdges" transform="translate(0,0.5)"/>
<text x="-1.2" y="589"  font-size="9.5px" fill="#000" stroke="#000" stroke-width="0.3" textLength="127" lengthAdjust="spacingAndGlyphs">MACD(12,26,9) 1.4179 1.1553</text>
</g>
<g id="rsi">
<line x1="1" y1="784.5" x2="1684" y2="784.5" stroke="#c0c0c0" stroke-width="1" stroke-dasharray="3,3" shape-rendering="crispEdges"/>
<line x1="1" y1="835.5" x2="1684" y2="835.5" stroke="#c0c0c0" stroke-width="1" stroke-dasharray="3,3" shape-rendering="crispEdges"/>
<line x1="1" y1="896.5" x2="1684" y2="896.5" stroke="#c0c0c0" stroke-width="1" stroke-dasharray="3,3" shape-rendering="crispEdges"/>
<path d="M1410 776h1m-3 1h2m1 0h1m-6 1h2m3 0h1m-7 1h1m6 0h1m-10 1h2m7 0h1m-11 1h1m10 0h1m-14 1h2m11 0h1m-15 1h1m14 0h1m-17 1h1m15 0h1m15 0h4m-38 1h2m17 0h1m10 0h4m-35 1h1m19 0h1m8 0h2m-33 1h2m21 0h1m6 0h1m-34 1h3m23 0h1m5 0h1m-35 1h2m27 0h1m2 0h2m-80 1h5m39 0h2m29 0h1m1 0h1m-1359 1h14m1262 0h5m5 0h2m36 0h1m32 0h1m-1361 1h3m14 0h1m1259 0h2m12 0h2m33 0h1m-1328 1h1m17 0h1m68 0h2m1187 0h2m16 0h2m29 0h2m-1327 1h1m18 0h1m65 0h2m2 0h1m1184 0h2m20 0h2m26 0h1m-1326 1h1m20 0h1m62 0h2m5 0h2m1181 0h1m24 0h2m23 0h1m-1326 1h1m22 0h1m59 0h2m9 0h1m1179 0h1m27 0h1m21 0h1m-1326 1h1m23 0h1m15 0h5m37 0h2m12 0h1m121 0h4m1053 0h1m28 0h2m8 0h11m-1325 1h1m24 0h1m9 0h5m5 0h1m34 0h2m15 0h2m115 0h4m4 0h4m1048 0h1m31 0h2m2 0h4m-1315 1h1m26 0h1m6 0h2m11 0h1m31 0h2m19 0h1m4 0h5m103 0h2m12 0h3m1007 0h2m35 0h1m34 0h2m-1312 1h1m28 0h1m3 0h2m13 0h1m29 0h2m22 0h4m5 0h1m100 0h2m16 0h1m1005 0h2m2 0h4m30 0h1m-1276 1h1m29 0h1m1 0h2m16 0h1m26 0h2m33 0h1m99 0h1m19 0h1m1002 0h2m8 0h19m11 0h1m-1276 1h1m30 0h1m19 0h1m23 0h2m36 0h1m97 0h1m20 0h1m1001 0h1m29 0h2m8 0h1m-1276 1h1m52 0h1m20 0h2m38 0h1m95 0h2m22 0h1m998 0h2m32 0h1m6 0h1m-1276 1h1m54 0h1m17 0h2m41 0h1m93 0h1m24 0h1m997 0h1m35 0h2m3 0h1m-1276 1h1m55 0h1m15 0h2m43 0h1m76 0h2m12 0h3m26 0h1m995 0h1m38 0h2m1 0h1m-1276 1h1m56 0h1m13 0h1m46 0h1m74 0h1m2 0h4m4 0h4m29 0h1m994 0h1m41 0h1m-1276 1h1m58 0h2m10 0h1m47 0h1m73 0h1m7 0h4m33 0h1m993 0h1m-1234 1h1m61 0h2m6 0h2m49 0h1m71 0h1m46 0h1m467 0h2m522 0h1m-1234 1h1m64 0h3m2 0h1m51 0h1m10 0h1m59 0h1m47 0h1m466 0h1m2 0h4m425 0h2m91 0h1m-1235 1h1m68 0h2m53 0h1m7 0h2m1 0h1m14 0h1m42 0h1m49 0h1m464 0h1m7 0h3m420 0h2m1 0h1m90 0h1m-1235 1h1m124 0h1m5 0h2m4 0h1m12 0h2m41 0h1m50 0h1m462 0h2m11 0h1m90 0h5m311 0h2m9 0h2m4 0h1m88 0h1m-1234 1h1m125 0h1m3 0h1m7 0h1m10 0h1m2 0h1m39 0h1m51 0h1m461 0h1m13 0h1m85 0h5m5 0h1m244 0h3m62 0h1m2 0h4m3 0h2m6 0h1m87 0h1m-1276 1h1m41 0h1m126 0h1m1 0h2m9 0h1m7 0h2m3 0h1m30 0h9m53 0h1m459 0h1m15 0h1m81 0h3m11 0h1m239 0h4m2 0h1m62 0h1m6 0h3m9 0h1m77 0h9m-1274 1h1m39 0h1m128 0h1m12 0h1m5 0h1m6 0h1m28 0h1m62 0h1m8 0h2m448 0h1m16 0h1m79 0h2m15 0h1m36 0h1m199 0h2m7 0h1m60 0h1m19 0h1m75 0h2m-1264 1h1m37 0h1m143 0h1m3 0h1m7 0h1m28 0h1m63 0h1m5 0h2m2 0h1m446 0h1m18 0h1m76 0h2m18 0h1m34 0h1m1 0h2m20 0h3m172 0h2m9 0h1m59 0h1m21 0h1m73 0h1m-1261 1h1m35 0h1m145 0h1m1 0h1m9 0h1m26 0h1m64 0h1m3 0h2m5 0h2m444 0h1m18 0h1m75 0h1m21 0h1m32 0h1m4 0h1m17 0h2m3 0h2m168 0h2m12 0h1m57 0h1m22 0h1m44 0h18m10 0h1m-1259 1h1m32 0h2m147 0h1m10 0h1m26 0h1m65 0h3m9 0h1m442 0h1m20 0h1m74 0h1m22 0h1m30 0h1m6 0h2m13 0h2m7 0h3m164 0h1m14 0h1m57 0h1m23 0h1m41 0h2m18 0h2m6 0h2m-1257 1h1m30 0h1m160 0h1m25 0h1m66 0h1m12 0h1m441 0h1m20 0h1m73 0h1m24 0h1m28 0h1m9 0h2m9 0h2m12 0h2m131 0h5m24 0h2m16 0h1m55 0h1m24 0h1m27 0h1m12 0h1m22 0h3m2 0h1m-1255 1h1m29 0h1m162 0h1m24 0h1m80 0h2m439 0h1m21 0h1m71 0h1m26 0h1m26 0h1m12 0h9m16 0h1m126 0h4m5 0h1m22 0h1m18 0h1m54 0h1m25 0h1m26 0h1m1 0h2m9 0h1m26 0h2m-1253 1h1m25 0h3m163 0h1m23 0h1m83 0h1m437 0h1m22 0h1m70 0h1m28 0h1m24 0h1m38 0h1m77 0h2m45 0h2m9 0h1m21 0h1m19 0h1m32 0h5m16 0h1m27 0h1m25 0h1m3 0h2m5 0h2m-1223 1h1m19 0h5m167 0h1m22 0h1m84 0h1m230 0h5m201 0h1m23 0h1m69 0h1m28 0h1m23 0h1m40 0h1m73 0h3m2 0h1m42 0h2m12 0h1m19 0h1m21 0h1m27 0h4m5 0h2m14 0h1m27 0h1m24 0h1m6 0h2m2 0h1m-1220 1h1m14 0h4m172 0h1m21 0h1m85 0h1m198 0h1m29 0h2m5 0h12m188 0h1m24 0h1m17 0h2m49 0h1m30 0h1m20 0h2m41 0h1m71 0h2m6 0h1m40 0h1m15 0h1m17 0h1m22 0h1m25 0h2m11 0h2m9 0h3m29 0h1m22 0h1m9 0h2m-1218 1h1m5 0h8m176 0h1m20 0h1m87 0h1m196 0h2m27 0h2m18 0h1m188 0h1m25 0h1m14 0h2m2 0h4m44 0h1m32 0h1m16 0h3m44 0h1m67 0h3m9 0h1m37 0h2m17 0h1m15 0h1m24 0h1m22 0h2m15 0h2m3 0h4m32 0h1m21 0h1m-1205 1h5m185 0h1m19 0h1m87 0h1m196 0h1m1 0h1m24 0h2m21 0h1m62 0h1m87 0h1m36 0h1m25 0h1m12 0h2m8 0h6m37 0h1m34 0h1m13 0h2m47 0h1m65 0h2m13 0h2m34 0h1m19 0h1m15 0h1m24 0h1m21 0h1m19 0h3m37 0h1m20 0h1m-1015 1h1m18 0h1m89 0h1m194 0h1m2 0h1m22 0h2m23 0h1m61 0h1m1 0h2m85 0h1m35 0h1m27 0h2m9 0h1m16 0h5m32 0h1m34 0h1m11 0h2m50 0h1m62 0h2m17 0h1m32 0h1m21 0h1m13 0h1m25 0h1m19 0h2m60 0h1m19 0h1m-1013 1h1m17 0h1m89 0h1m193 0h1m4 0h1m19 0h2m26 0h1m60 0h1m3 0h2m82 0h1m1 0h1m34 0h1m29 0h4m3 0h2m22 0h2m28 0h2m36 0h1m8 0h2m53 0h1m16 0h3m40 0h2m20 0h1m31 0h1m22 0h1m11 0h1m27 0h1m17 0h1m63 0h1m17 0h1m-1012 1h1m16 0h1m91 0h1m192 0h1m4 0h1m17 0h2m28 0h1m59 0h1m6 0h2m80 0h1m1 0h1m34 0h1m33 0h3m26 0h1m24 0h3m39 0h1m5 0h2m55 0h1m12 0h4m3 0h1m38 0h1m23 0h1m29 0h1m24 0h1m9 0h1m28 0h1m15 0h2m64 0h10m7 0h1m-1010 1h1m3 0h8m4 0h1m91 0h1m191 0h1m6 0h1m14 0h2m31 0h1m57 0h1m9 0h2m78 0h1m2 0h1m32 0h1m64 0h2m20 0h2m43 0h1m3 0h1m58 0h1m8 0h3m7 0h1m37 0h1m25 0h1m28 0h1m24 0h1m4 0h5m30 0h1m12 0h2m76 0h4m3 0h1m-1010 1h4m8 0h4m93 0h1m189 0h1m7 0h1m13 0h1m33 0h1m56 0h1m12 0h1m76 0h1m3 0h1m32 0h1m66 0h2m15 0h3m45 0h1m1 0h2m59 0h1m6 0h2m11 0h1m35 0h1m26 0h1m27 0h1m26 0h4m35 0h1m11 0h1m82 0h3m-900 1h1m189 0h1m8 0h1m11 0h1m35 0h1m55 0h1m13 0h1m75 0h1m3 0h1m32 0h1m68 0h2m10 0h3m49 0h1m62 0h1m3 0h2m14 0h1m33 0h1m28 0h1m25 0h1m67 0h1m8 0h2m-813 1h1m187 0h1m9 0h1m10 0h1m36 0h1m54 0h1m14 0h1m75 0h1m4 0h1m30 0h1m71 0h4m4 0h2m115 0h1m1 0h2m17 0h1m31 0h1m30 0h1m24 0h1m67 0h9m-811 1h1m186 0h1m11 0h1m8 0h1m38 0h1m52 0h1m16 0h1m74 0h1m4 0h1m30 0h1m75 0h4m118 0h1m19 0h1m31 0h1m31 0h1m22 0h1m-733 1h1m185 0h1m11 0h1m7 0h1m39 0h1m51 0h1m18 0h1m72 0h1m5 0h1m29 0h1m219 0h1m29 0h1m32 0h1m21 0h1m-732 1h1m182 0h3m13 0h1m6 0h1m40 0h1m9 0h1m40 0h1m19 0h1m71 0h1m6 0h1m28 0h1m220 0h1m27 0h1m34 0h1m9 0h3m8 0h1m-731 1h1m177 0h4m16 0h1m5 0h1m41 0h1m7 0h2m1 0h1m34 0h5m21 0h1m70 0h1m6 0h1m28 0h1m221 0h1m25 0h1m36 0h1m6 0h2m3 0h2m5 0h1m-730 1h1m174 0h3m21 0h1m3 0h1m43 0h1m4 0h2m4 0h1m28 0h5m26 0h1m7 0h4m58 0h1m8 0h1m26 0h1m222 0h1m22 0h3m38 0h1m3 0h2m7 0h3m2 0h1m-729 1h1m171 0h2m24 0h1m2 0h1m44 0h1m3 0h1m6 0h1m26 0h2m32 0h1m2 0h4m4 0h2m56 0h1m8 0h1m10 0h2m13 0h2m223 0h1m17 0h4m41 0h1m1 0h2m12 0h2m-728 1h1m157 0h3m9 0h2m27 0h2m46 0h3m8 0h1m23 0h2m35 0h2m10 0h3m53 0h1m8 0h1m9 0h1m2 0h2m8 0h3m226 0h1m14 0h2m46 0h1m-712 1h1m154 0h3m3 0h4m3 0h2m29 0h1m47 0h1m11 0h1m20 0h2m52 0h3m49 0h1m10 0h1m7 0h1m5 0h3m3 0h2m229 0h1m13 0h1m-662 1h1m151 0h2m10 0h3m92 0h1m9 0h10m57 0h2m47 0h1m10 0h1m6 0h1m9 0h3m232 0h1m12 0h1m-662 1h1m148 0h3m108 0h1m6 0h2m69 0h3m44 0h1m10 0h1m5 0h1m246 0h1m10 0h1m-661 1h1m145 0h3m111 0h1m4 0h2m74 0h2m41 0h1m12 0h1m3 0h1m247 0h1m9 0h1m-659 1h1m142 0h2m115 0h1m1 0h2m78 0h1m40 0h1m12 0h1m2 0h1m249 0h1m7 0h1m-658 1h1m140 0h2m118 0h1m81 0h1m39 0h1m13 0h2m251 0h1m6 0h1m-658 1h1m140 0h1m201 0h1m39 0h1m13 0h1m252 0h1m5 0h1m-656 1h1m138 0h1m203 0h1m37 0h1m268 0h1m3 0h1m-655 1h1m138 0h1m204 0h1m19 0h1m16 0h1m269 0h1m1 0h1m-653 1h1m136 0h1m206 0h1m17 0h1m1 0h1m15 0h1m269 0h1m1 0h1m-653 1h1m136 0h1m207 0h1m15 0h1m3 0h2m12 0h1m271 0h1m-652 1h1m10 0h1m124 0h1m208 0h1m14 0h1m6 0h1m10 0h2m-379 1h1m8 0h1m1 0h1m123 0h1m209 0h1m12 0h1m8 0h1m6 0h3m-377 1h1m7 0h1m2 0h1m122 0h1m211 0h2m9 0h1m10 0h2m2 0h2m-374 1h1m6 0h1m4 0h1m121 0h1m213 0h2m6 0h1m13 0h2m-371 1h1m4 0h1m5 0h1m120 0h1m216 0h3m2 0h1m-355 1h1m3 0h1m7 0h1m119 0h1m219 0h2m-354 1h1m2 0h1m8 0h1m118 0h1m-131 1h2m10 0h1m117 0h1m-131 1h1m12 0h1m115 0h1m-117 1h1m43 0h2m68 0h2m-115 1h1m40 0h2m2 0h4m63 0h1m-113 1h1m38 0h2m8 0h2m59 0h2m-111 1h1m35 0h2m12 0h1m57 0h1m-109 1h1m15 0h5m13 0h2m15 0h2m54 0h1m-107 1h2m10 0h3m5 0h13m19 0h1m43 0h4m4 0h2m-104 1h4m4 0h2m41 0h1m41 0h1m4 0h4m-98 1h4m44 0h2m4 0h5m30 0h1m-40 1h4m5 0h1m28 0h1m-29 1h1m26 0h1m-27 1h1m24 0h1m-25 1h2m22 0h1m-23 1h1m20 0h1m-21 1h1m18 0h1m-19 1h2m15 0h1m-16 1h4m11 0h1m-12 1h11" fill="none" stroke="#1e90ff" stroke-width="1" shape-rendering="crispEdges" transform="translate(0,0.5)"/>
<text x="-1.2" y="761.2"  font-size="9.5px" fill="#000" stroke="#000" stroke-width="0.3" textLength="67" lengthAdjust="spacingAndGlyphs">RSI(14) 80.1790</text>
</g>
<polygon points="0,27.8 0.6,27.8 4,31.4 4,32 0,32" fill="#000"/>
 <text x="9.5" y="32.9" font-size="9.6px" fill="#000" stroke="#000" stroke-width="0.3" textLength="209.5" lengthAdjust="spacingAndGlyphs" xml:space="preserve">GBPJPY-,Daily  147.553 148.140 147.269 147.812</text>
<g id="oneclick">
<rect x="0" y="41" width="218" height="64" fill="#fff"/>
<rect x="0" y="41" width="49" height="25" fill="#1414c4" shape-rendering="crispEdges"/>
<rect x="0" y="42" width="48" height="24" fill="url(#gb1)" shape-rendering="crispEdges"/>
<rect x="164" y="41" width="52" height="25" fill="#1414c4" shape-rendering="crispEdges"/>
<rect x="165" y="42" width="50" height="24" fill="url(#gb1)" shape-rendering="crispEdges"/>
<rect x="0" y="65" width="106" height="40" fill="#0a0ab4" shape-rendering="crispEdges"/>
<rect x="0" y="66" width="105" height="38" fill="url(#gb2)" shape-rendering="crispEdges"/>
<rect x="108" y="65" width="108" height="40" fill="#0a0ab4" shape-rendering="crispEdges"/>
<rect x="109" y="66" width="106" height="38" fill="url(#gb2)" shape-rendering="crispEdges"/>
<rect x="0" y="64" width="48" height="3" fill="#3636de" shape-rendering="crispEdges"/>
<rect x="165" y="64" width="50" height="3" fill="#3636de" shape-rendering="crispEdges"/>
<rect x="1" y="64" width="44" height="1" fill="#0c0ca0" shape-rendering="crispEdges"/><rect x="1" y="65" width="44" height="1" fill="#6a6af0" shape-rendering="crispEdges"/>
<rect x="168" y="64" width="44" height="1" fill="#0c0ca0" shape-rendering="crispEdges"/><rect x="168" y="65" width="44" height="1" fill="#6a6af0" shape-rendering="crispEdges"/>
<rect x="51.5" y="41.5" width="110" height="21" fill="#fff" stroke="#a8a8a8" shape-rendering="crispEdges"/>
<rect x="52.5" y="42.5" width="19.5" height="19" fill="url(#gg)" stroke="#c8c8c8" shape-rendering="crispEdges"/>
<rect x="141.5" y="42.5" width="19.5" height="19" fill="url(#gg)" stroke="#c8c8c8" shape-rendering="crispEdges"/>
<rect x="72" y="42" width="1" height="20" fill="#a8a8a8" shape-rendering="crispEdges"/><rect x="140" y="42" width="1" height="20" fill="#a8a8a8" shape-rendering="crispEdges"/>
<polygon points="58.8,50 64.2,50 61.5,53.2" fill="#4a66c8"/>
<polygon points="147.3,53 152.7,53 150,49.8" fill="#4a66c8"/>
<text x="136.6" y="56.2" font-size="12px" fill="#000" text-anchor="end" textLength="23" lengthAdjust="spacingAndGlyphs">1.00</text>
<text x="22" y="57.4" font-size="12.6px" fill="#fff" text-anchor="middle" textLength="25.4" lengthAdjust="spacingAndGlyphs">SELL</text>
<text x="189.5" y="57.4" font-size="12.6px" fill="#fff" text-anchor="middle" textLength="23" lengthAdjust="spacingAndGlyphs">BUY</text>
<text x="20.4" y="95.8" font-size="12.3px" font-weight="bold" fill="#fff" textLength="20.2" lengthAdjust="spacingAndGlyphs">147</text>
<text x="45" y="95.8" font-size="34.6px" fill="#fff" textLength="35.8" lengthAdjust="spacingAndGlyphs">81</text>
<text x="84.2" y="79.8" font-size="12.6px" font-weight="bold" fill="#fff">2</text>
<text x="130.8" y="95.8" font-size="12.3px" font-weight="bold" fill="#fff" textLength="20.2" lengthAdjust="spacingAndGlyphs">147</text>
<text x="156" y="95.8" font-size="34.6px" fill="#fff" textLength="35.8" lengthAdjust="spacingAndGlyphs">85</text>
<text x="195" y="79.8" font-size="12.6px" font-weight="bold" fill="#fff">0</text>
</g>
</svg>
</body></html>
